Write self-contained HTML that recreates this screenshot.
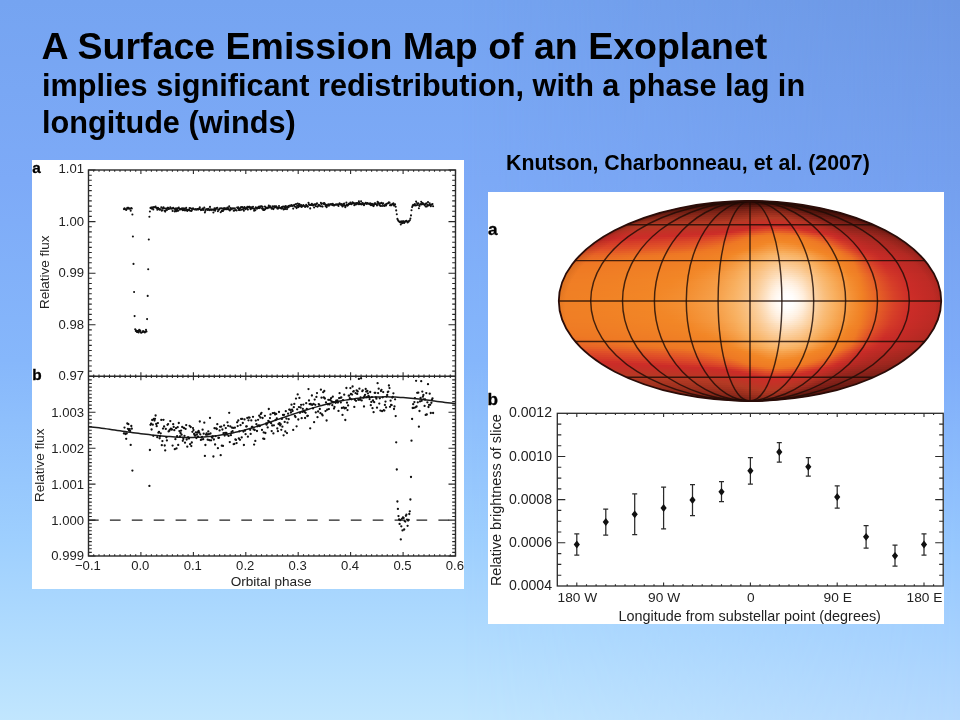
<!DOCTYPE html>
<html><head><meta charset="utf-8"><title>A Surface Emission Map of an Exoplanet</title>
<style>
html,body{margin:0;padding:0}
body{width:960px;height:720px;overflow:hidden;position:relative;font-family:"Liberation Sans",sans-serif;
background:linear-gradient(180deg,rgb(117,164,241) 0,rgb(125,170,247) 25%,rgb(134,183,251) 50%,rgb(158,207,254) 75%,rgb(177,220,254) 88.9%,rgb(193,230,254) 100%);}
.t{position:absolute;left:42px;white-space:nowrap;font-weight:bold;color:#000;line-height:1}
#t1{left:41.5px;top:27.6px;font-size:37.5px}
#t2{top:69.8px;font-size:30.67px}
#t3{top:106.5px;font-size:30.67px}
#t4{left:506px;top:152.7px;font-size:21.33px}
svg{position:absolute;left:0;top:0}
.p{position:absolute;background:#fff}
#bgr{position:absolute;left:0;top:0;width:960px;height:720px;background:linear-gradient(180deg,rgb(108,151,228) 0,rgb(116,159,238) 25%,rgb(126,172,249) 50%,rgb(149,198,254) 75%,rgb(166,209,254) 88.9%,rgb(181,217,254) 100%);-webkit-mask-image:linear-gradient(90deg,transparent 48%,#000 100%);mask-image:linear-gradient(90deg,transparent 48%,#000 100%)}
#map{position:absolute;left:0;top:0;width:960px;height:720px;clip-path:ellipse(191.2px 100px at 750px 301px)}
#map i{position:absolute;display:block;height:2px}
svg text{font-family:"Liberation Sans",sans-serif;fill:#222}
</style></head><body>
<div id="bgr"></div>
<div class="t" id="t1">A Surface Emission Map of an Exoplanet</div>
<div class="t" id="t2">implies significant redistribution, with a phase lag in</div>
<div class="t" id="t3">longitude (winds)</div>
<div class="t" id="t4">Knutson, Charbonneau, et al. (2007)</div>
<div class="p" style="left:32px;top:160px;width:432px;height:429px"></div>
<div class="p" style="left:488px;top:192px;width:456px;height:432px"></div>
<div id="map">

<i style="top:201px;left:712.0px;width:76.1px;background:linear-gradient(90deg,#300a06 0%,#300a06 4.2%,#300a06 8.3%,#300a06 12.5%,#300a06 16.7%,#300a06 20.8%,#300a06 25%,#300a06 29.2%,#300a06 33.3%,#310b06 37.5%,#310b06 41.7%,#310b06 43.1%,#310b06 44.4%,#310b06 45.8%,#320b06 47.2%,#320b06 48.6%,#320b06 50%,#320b06 51.4%,#320b06 52.8%,#330b06 54.2%,#330b06 55.6%,#330b06 56.9%,#330b06 58.3%,#330b06 59.7%,#330b06 61.1%,#330b06 62.5%,#330b06 63.9%,#320b06 65.3%,#320b06 66.7%,#320b06 68.1%,#310b06 69.4%,#310b06 70.8%,#300a06 72.2%,#300a05 73.6%,#2f0a05 75%,#2e0a05 76.4%,#2d0a05 79.2%,#2c0905 83.3%,#2c0905 87.5%,#2b0905 91.7%,#2b0905 95.8%,#2b0904 100%)"></i>
<i style="top:203px;left:696.5px;width:107.1px;background:linear-gradient(90deg,#3f0f09 0%,#3f0f09 4.2%,#3f0f09 8.3%,#3f0f09 12.5%,#400f09 16.7%,#400f09 20.8%,#400f09 25%,#400f09 29.2%,#410f09 33.3%,#421009 37.5%,#431009 41.7%,#431009 43.1%,#44100a 44.4%,#44100a 45.8%,#45110a 47.2%,#45110a 48.6%,#46110a 50%,#47110a 51.4%,#47110a 52.8%,#48110a 54.2%,#48120a 55.6%,#48120a 56.9%,#48120a 58.3%,#49120b 59.7%,#48120a 61.1%,#48120a 62.5%,#48120a 63.9%,#47110a 65.3%,#47110a 66.7%,#45110a 68.1%,#431009 69.4%,#421009 70.8%,#400f09 72.2%,#3f0f08 73.6%,#3d0f08 75%,#3b0e08 76.4%,#380d07 79.2%,#340c06 83.3%,#330c06 87.5%,#320b06 91.7%,#310b06 95.8%,#300b05 100%)"></i>
<i style="top:205px;left:684.8px;width:130.5px;background:linear-gradient(90deg,#4e130c 0%,#4e130c 4.2%,#4e130c 8.3%,#4f140c 12.5%,#4f140c 16.7%,#50140c 20.8%,#50140c 25%,#51140c 29.2%,#52150c 33.3%,#53150d 37.5%,#55160d 41.7%,#56160d 43.1%,#57160e 44.4%,#58160e 45.8%,#59170e 47.2%,#5a170e 48.6%,#5b180f 50%,#5c180f 51.4%,#5d180f 52.8%,#5e180f 54.2%,#5f190f 55.6%,#5f190f 56.9%,#5f1910 58.3%,#601910 59.7%,#5f190f 61.1%,#5f190f 62.5%,#5e190f 63.9%,#5d180f 65.3%,#5c180f 66.7%,#5a170e 68.1%,#57160e 69.4%,#54150d 70.8%,#51150c 72.2%,#4f140c 73.6%,#4c130b 75%,#49120a 76.4%,#431109 79.2%,#3c0f07 83.3%,#3a0e07 87.5%,#380d07 91.7%,#370d07 95.8%,#360d06 100%)"></i>
<i style="top:207px;left:675.1px;width:149.9px;background:linear-gradient(90deg,#5e180f 0%,#5e190f 4.2%,#5f190f 8.3%,#601910 12.5%,#601910 16.7%,#611910 20.8%,#621a10 25%,#631a10 29.2%,#641a11 33.3%,#661b11 37.5%,#681c12 41.7%,#6a1c12 43.1%,#6b1d12 44.4%,#6c1d12 45.8%,#6e1e13 47.2%,#701e13 48.6%,#711f14 50%,#721f14 51.4%,#741f14 52.8%,#752014 54.2%,#762015 55.6%,#772015 56.9%,#772015 58.3%,#782115 59.7%,#772015 61.1%,#762015 62.5%,#762015 63.9%,#742014 65.3%,#731f14 66.7%,#6f1e13 68.1%,#6c1d12 69.4%,#691c12 70.8%,#651b11 72.2%,#621910 73.6%,#5e180f 75%,#5a170e 76.4%,#53150d 79.2%,#46120a 83.3%,#411008 87.5%,#3f1008 91.7%,#3d0f08 95.8%,#3c0f07 100%)"></i>
<i style="top:209px;left:666.7px;width:166.7px;background:linear-gradient(90deg,#691c12 0%,#6a1c12 4.2%,#6a1c12 8.3%,#6b1d12 12.5%,#6c1d12 16.7%,#6d1d13 20.8%,#6e1e13 25%,#6f1e13 29.2%,#701e13 33.3%,#731f14 37.5%,#762015 41.7%,#772015 43.1%,#792115 44.4%,#7a2116 45.8%,#7c2216 47.2%,#7e2316 48.6%,#7f2317 50%,#802417 51.4%,#822417 52.8%,#832518 54.2%,#842518 55.6%,#842518 56.9%,#852618 58.3%,#852618 59.7%,#852618 61.1%,#842518 62.5%,#832518 63.9%,#822417 65.3%,#812417 66.7%,#7d2316 68.1%,#7a2116 69.4%,#772015 70.8%,#731f14 72.2%,#6f1d13 73.6%,#6b1c12 75%,#661b11 76.4%,#5d180f 79.2%,#4f140c 83.3%,#4a120a 87.5%,#461109 91.7%,#431109 95.8%,#401008 100%)"></i>
<i style="top:211px;left:659.2px;width:181.6px;background:linear-gradient(90deg,#742014 0%,#752014 4.2%,#762015 8.3%,#772015 12.5%,#782115 16.7%,#792115 20.8%,#7a2116 25%,#7b2216 29.2%,#7d2216 33.3%,#7f2317 37.5%,#812417 41.7%,#832518 43.1%,#842518 44.4%,#862618 45.8%,#872719 47.2%,#892719 48.6%,#8b281a 50%,#8c291a 51.4%,#8e291a 52.8%,#8f2a1a 54.2%,#902a1b 55.6%,#912b1b 56.9%,#912b1b 58.3%,#922b1b 59.7%,#912b1b 61.1%,#902a1b 62.5%,#902a1b 63.9%,#8e291a 65.3%,#8c291a 66.7%,#892719 68.1%,#862618 69.4%,#822418 70.8%,#7f2317 72.2%,#7b2116 73.6%,#772015 75%,#721e14 76.4%,#681b12 79.2%,#58160e 83.3%,#52140c 87.5%,#4d130b 91.7%,#4a120a 95.8%,#461109 100%)"></i>
<i style="top:213px;left:652.4px;width:195.1px;background:linear-gradient(90deg,#7f2317 0%,#7f2317 4.2%,#802417 8.3%,#812417 12.5%,#822417 16.7%,#832518 20.8%,#842518 25%,#852618 29.2%,#862618 33.3%,#892719 37.5%,#8c281a 41.7%,#8d291a 43.1%,#8f2a1a 44.4%,#902a1b 45.8%,#922b1b 47.2%,#942c1c 48.6%,#962d1c 50%,#982e1d 51.4%,#9a2e1d 52.8%,#9b2f1d 54.2%,#9d2f1e 55.6%,#9d301e 56.9%,#9e301e 58.3%,#9e301e 59.7%,#9e301e 61.1%,#9d2f1e 62.5%,#9c2f1e 63.9%,#9a2e1d 65.3%,#982e1d 66.7%,#952c1c 68.1%,#912a1b 69.4%,#8d281a 70.8%,#8a2619 72.2%,#862519 73.6%,#822318 75%,#7d2117 76.4%,#731e14 79.2%,#611810 83.3%,#5a170f 87.5%,#55150d 91.7%,#51140c 95.8%,#4c130b 100%)"></i>
<i style="top:215px;left:646.3px;width:207.5px;background:linear-gradient(90deg,#882719 0%,#882719 4.2%,#892719 8.3%,#8a2819 12.5%,#8b281a 16.7%,#8c291a 20.8%,#8d291a 25%,#8e2a1a 29.2%,#902a1b 33.3%,#932b1b 37.5%,#962d1c 41.7%,#982d1d 43.1%,#992e1d 44.4%,#9b2f1d 45.8%,#9e301e 47.2%,#a0311e 48.6%,#a2321f 50%,#a3321f 51.4%,#a43320 52.8%,#a63420 54.2%,#a73421 55.6%,#a83521 56.9%,#a93521 58.3%,#a93521 59.7%,#a83521 61.1%,#a83421 62.5%,#a73420 63.9%,#a53320 65.3%,#a3321f 66.7%,#a0301f 68.1%,#9c2e1e 69.4%,#982c1d 70.8%,#942a1c 72.2%,#90281b 73.6%,#8c261a 75%,#872419 76.4%,#7d2117 79.2%,#6a1b13 83.3%,#621911 87.5%,#5d170f 91.7%,#58160e 95.8%,#53150d 100%)"></i>
<i style="top:217px;left:640.6px;width:218.9px;background:linear-gradient(90deg,#912b1b 0%,#922b1b 4.2%,#922b1b 8.3%,#942c1c 12.5%,#952c1c 16.7%,#962d1c 20.8%,#972d1c 25%,#982e1d 29.2%,#9a2e1d 33.3%,#9d301e 37.5%,#a0311f 41.7%,#a2321f 43.1%,#a43320 44.4%,#a63320 45.8%,#a83421 47.2%,#aa3521 48.6%,#ac3622 50%,#ae3722 51.4%,#b03823 52.8%,#b13923 54.2%,#b33924 55.6%,#b33a24 56.9%,#b43a24 58.3%,#b43a24 59.7%,#b43a24 61.1%,#b33a24 62.5%,#b23923 63.9%,#b03823 65.3%,#ae3722 66.7%,#aa3521 68.1%,#a73320 69.4%,#a3301f 70.8%,#9f2e1e 72.2%,#9a2c1d 73.6%,#962a1d 75%,#91271b 76.4%,#862319 79.2%,#741d15 83.3%,#6b1b13 87.5%,#651911 91.7%,#5f1810 95.8%,#5a160e 100%)"></i>
<i style="top:219px;left:635.3px;width:229.4px;background:linear-gradient(90deg,#9a2e1d 0%,#9b2f1d 4.2%,#9c2f1e 8.3%,#9d301e 12.5%,#9e301e 16.7%,#9f311e 20.8%,#a1311f 25%,#a2321f 29.2%,#a3321f 33.3%,#a73420 37.5%,#aa3521 41.7%,#ac3622 43.1%,#ae3722 44.4%,#b03823 45.8%,#b23923 47.2%,#b43a24 48.6%,#b63924 50%,#b73824 51.4%,#b83825 52.8%,#b93725 54.2%,#bb3625 55.6%,#bb3625 56.9%,#bb3625 58.3%,#bc3525 59.7%,#bb3625 61.1%,#bb3625 62.5%,#ba3725 63.9%,#b93725 65.3%,#b73824 66.7%,#b43824 68.1%,#b13723 69.4%,#ad3422 70.8%,#a93221 72.2%,#a42f20 73.6%,#a02d1f 75%,#9a2a1e 76.4%,#8f261b 79.2%,#7d1f17 83.3%,#741d15 87.5%,#6d1b13 91.7%,#671a12 95.8%,#611810 100%)"></i>
<i style="top:221px;left:630.4px;width:239.3px;background:linear-gradient(90deg,#a3321f 0%,#a43320 4.2%,#a43320 8.3%,#a63320 12.5%,#a73420 16.7%,#a83521 20.8%,#a93521 25%,#ab3621 29.2%,#ac3622 33.3%,#b03823 37.5%,#b33a24 41.7%,#b53924 43.1%,#b63924 44.4%,#b83825 45.8%,#b93725 47.2%,#bb3625 48.6%,#bd3525 50%,#be3425 51.4%,#bf3426 52.8%,#c13326 54.2%,#c23226 55.6%,#c23226 56.9%,#c33226 58.3%,#c33126 59.7%,#c23226 61.1%,#c23226 62.5%,#c13226 63.9%,#c03326 65.3%,#be3425 66.7%,#bb3425 68.1%,#b83424 69.4%,#b53324 70.8%,#b23323 72.2%,#ae3222 73.6%,#aa3021 75%,#a42d20 76.4%,#98281d 79.2%,#842119 83.3%,#7c1f17 87.5%,#751d15 91.7%,#6e1c14 95.8%,#681a12 100%)"></i>
<i style="top:223px;left:625.7px;width:248.5px;background:linear-gradient(90deg,#ab3621 0%,#ac3622 4.2%,#ad3722 8.3%,#ae3722 12.5%,#af3823 16.7%,#b03823 20.8%,#b23923 25%,#b33a24 29.2%,#b53a24 33.3%,#b73824 37.5%,#ba3725 41.7%,#bb3625 43.1%,#bd3525 44.4%,#be3425 45.8%,#c03326 47.2%,#c23226 48.6%,#c33126 50%,#c43126 51.4%,#c53027 52.8%,#c63027 54.2%,#c72f27 55.6%,#c72f27 56.9%,#c82f27 58.3%,#c82e27 59.7%,#c82f27 61.1%,#c72f27 62.5%,#c72f27 63.9%,#c53027 65.3%,#c43126 66.7%,#c23126 68.1%,#c03126 69.4%,#bd3125 70.8%,#b93124 72.2%,#b63024 73.6%,#b23023 75%,#ad2f22 76.4%,#a12a1f 79.2%,#8c221a 83.3%,#822018 87.5%,#7c1f17 91.7%,#761d15 95.8%,#6f1c14 100%)"></i>
<i style="top:225px;left:621.4px;width:257.2px;background:linear-gradient(90deg,#b23923 0%,#b23924 4.2%,#b33a24 8.3%,#b43a24 12.5%,#b53924 16.7%,#b63924 20.8%,#b73824 25%,#b83825 29.2%,#b93725 33.3%,#bc3525 37.5%,#bf3426 41.7%,#c03326 43.1%,#c23226 44.4%,#c33126 45.8%,#c43126 47.2%,#c63027 48.6%,#c72f27 50%,#c82e27 51.4%,#c92e27 52.8%,#ca2d28 54.2%,#cb2c28 55.6%,#cc2c28 56.9%,#cc2d28 58.3%,#cd2e28 59.7%,#cc2c28 61.1%,#cc2c28 62.5%,#cb2d28 63.9%,#ca2d28 65.3%,#c82e27 66.7%,#c72f27 68.1%,#c42f26 69.4%,#c22f26 70.8%,#c02f25 72.2%,#bc2f25 73.6%,#b82f24 75%,#b32e23 76.4%,#a82c21 79.2%,#92241c 83.3%,#88221a 87.5%,#812018 91.7%,#7b1f17 95.8%,#741d15 100%)"></i>
<i style="top:227px;left:617.3px;width:265.4px;background:linear-gradient(90deg,#b73824 0%,#b73824 4.2%,#b83825 8.3%,#b93725 12.5%,#ba3725 16.7%,#bb3625 20.8%,#bc3625 25%,#bd3525 29.2%,#be3425 33.3%,#c13326 37.5%,#c33126 41.7%,#c43126 43.1%,#c63027 44.4%,#c72f27 45.8%,#c82e27 47.2%,#ca2d28 48.6%,#cb2c28 50%,#cd2d28 51.4%,#cf3128 52.8%,#d13528 54.2%,#d33928 55.6%,#d43b28 56.9%,#d53d28 58.3%,#d63e28 59.7%,#d53c28 61.1%,#d43a28 62.5%,#d33828 63.9%,#d03328 65.3%,#cd2e28 66.7%,#cb2d28 68.1%,#c92d27 69.4%,#c72e27 70.8%,#c42e26 72.2%,#c22e26 73.6%,#bf2e25 75%,#ba2e24 76.4%,#ae2c22 79.2%,#99251d 83.3%,#8e231b 87.5%,#872119 91.7%,#802018 95.8%,#7a1e16 100%)"></i>
<i style="top:229px;left:613.5px;width:273.1px;background:linear-gradient(90deg,#bb3625 0%,#bc3625 4.2%,#bc3525 8.3%,#bd3525 12.5%,#be3425 16.7%,#bf3426 20.8%,#c03326 25%,#c23226 29.2%,#c33226 33.3%,#c53027 37.5%,#c72f27 41.7%,#c82e27 43.1%,#c92e27 44.4%,#cb2d28 45.8%,#cc2d28 47.2%,#d03228 48.6%,#d33828 50%,#d53c28 51.4%,#d74128 52.8%,#da4528 54.2%,#dc4928 55.6%,#dd4b28 56.9%,#de4d28 58.3%,#df4e28 59.7%,#de4c28 61.1%,#dd4a28 62.5%,#db4728 63.9%,#d84228 65.3%,#d63d28 66.7%,#d23728 68.1%,#cf3128 69.4%,#cc2c28 70.8%,#c92d27 72.2%,#c62d27 73.6%,#c42d26 75%,#bf2d25 76.4%,#b52c23 79.2%,#9f261f 83.3%,#94241c 87.5%,#8c221a 91.7%,#852119 95.8%,#7e1f17 100%)"></i>
<i style="top:231px;left:609.8px;width:280.4px;background:linear-gradient(90deg,#c03326 0%,#c03326 4.2%,#c13326 8.3%,#c23226 12.5%,#c33226 16.7%,#c43126 20.8%,#c43126 25%,#c53027 29.2%,#c62f27 33.3%,#c92e27 37.5%,#cb2d28 41.7%,#cc2c28 43.1%,#cf3128 44.4%,#d23628 45.8%,#d53c28 47.2%,#d84228 48.6%,#dc4828 50%,#de4d28 51.4%,#e05128 52.8%,#e25627 54.2%,#e45b27 55.6%,#e55d27 56.9%,#e55f26 58.3%,#e66126 59.7%,#e55f27 61.1%,#e45c27 62.5%,#e35927 63.9%,#e15328 65.3%,#df4d28 66.7%,#db4728 68.1%,#d74028 69.4%,#d43a28 70.8%,#d03228 72.2%,#cc2c28 73.6%,#c92c27 75%,#c52d26 76.4%,#bc2c24 79.2%,#a52720 83.3%,#9a261e 87.5%,#92241c 91.7%,#8b221a 95.8%,#832119 100%)"></i>
<i style="top:233px;left:606.4px;width:287.3px;background:linear-gradient(90deg,#c43126 0%,#c43126 4.2%,#c53027 8.3%,#c63027 12.5%,#c72f27 16.7%,#c72f27 20.8%,#c82e27 25%,#c92e27 29.2%,#ca2d28 33.3%,#cd2e28 37.5%,#d23728 41.7%,#d53c28 43.1%,#d84128 44.4%,#db4628 45.8%,#de4c28 47.2%,#e15328 48.6%,#e45a27 50%,#e56026 51.4%,#e76526 52.8%,#e96a25 54.2%,#eb7025 55.6%,#ec7225 56.9%,#ed7424 58.3%,#ed7624 59.7%,#ec7324 61.1%,#eb7025 62.5%,#ea6e25 63.9%,#e86726 65.3%,#e66126 66.7%,#e35927 68.1%,#e05128 69.4%,#dd4a28 70.8%,#d84228 72.2%,#d43b28 73.6%,#d03328 75%,#cb2c28 76.4%,#c22c26 79.2%,#ac2821 83.3%,#a1271f 87.5%,#98251d 91.7%,#90231b 95.8%,#89221a 100%)"></i>
<i style="top:235px;left:603.1px;width:293.8px;background:linear-gradient(90deg,#c72f27 0%,#c82e27 4.2%,#c92e27 8.3%,#c92e27 12.5%,#ca2d28 16.7%,#cb2d28 20.8%,#cc2c28 25%,#ce3028 29.2%,#d03428 33.3%,#d53d28 37.5%,#da4628 41.7%,#dd4b28 43.1%,#e05128 44.4%,#e25727 45.8%,#e55e27 47.2%,#e86626 48.6%,#ea6d25 50%,#ec7325 51.4%,#ee7824 52.8%,#ee7a24 54.2%,#ef7b24 55.6%,#ef7c25 56.9%,#ef7c25 58.3%,#ef7d25 59.7%,#ef7c25 61.1%,#ef7b24 62.5%,#ef7b24 63.9%,#ee7924 65.3%,#ed7424 66.7%,#ea6c25 68.1%,#e76426 69.4%,#e45b27 70.8%,#e15228 72.2%,#dd4a28 73.6%,#d84228 75%,#d23728 76.4%,#c72c27 79.2%,#b32923 83.3%,#a72720 87.5%,#9e261e 91.7%,#96251d 95.8%,#8e231b 100%)"></i>
<i style="top:237px;left:600.0px;width:300.0px;background:linear-gradient(90deg,#ca2d28 0%,#cb2d28 4.2%,#cb2c28 8.3%,#cd2d28 12.5%,#ce3028 16.7%,#d03328 20.8%,#d23728 25%,#d43b28 29.2%,#d73f28 33.3%,#dc4828 37.5%,#e15228 41.7%,#e35827 43.1%,#e55e27 44.4%,#e76526 45.8%,#ea6c25 47.2%,#ed7424 48.6%,#ee7924 50%,#ef7b24 51.4%,#ef7c25 52.8%,#f07e25 54.2%,#f07f25 55.6%,#f08025 56.9%,#f08125 58.3%,#f18125 59.7%,#f08025 61.1%,#f08025 62.5%,#f07f25 63.9%,#ef7d25 65.3%,#ef7b24 66.7%,#ee7924 68.1%,#ec7225 69.4%,#e96925 70.8%,#e66026 72.2%,#e25727 73.6%,#df4e28 75%,#d84228 76.4%,#cc2c28 79.2%,#b92a24 83.3%,#ac2821 87.5%,#a3271f 91.7%,#9b261e 95.8%,#92241c 100%)"></i>
<i style="top:239px;left:597.0px;width:305.9px;background:linear-gradient(90deg,#cc2d28 0%,#ce2f28 4.2%,#cf3128 8.3%,#d13428 12.5%,#d23828 16.7%,#d43b28 20.8%,#d63e28 25%,#d84228 29.2%,#db4728 33.3%,#e05028 37.5%,#e45b27 41.7%,#e66226 43.1%,#e86826 44.4%,#eb6e25 45.8%,#ed7624 47.2%,#ee7a24 48.6%,#ef7c25 50%,#f07d25 51.4%,#f07f25 52.8%,#f08125 54.2%,#f18225 55.6%,#f18326 56.9%,#f18426 58.3%,#f28426 59.7%,#f18326 61.1%,#f18326 62.5%,#f18225 63.9%,#f08025 65.3%,#f07e25 66.7%,#ef7b24 68.1%,#ee7924 69.4%,#ec7324 70.8%,#e96a25 72.2%,#e66026 73.6%,#e25627 75%,#dd4a28 76.4%,#d03328 79.2%,#bc2a24 83.3%,#af2922 87.5%,#a62720 91.7%,#9e261e 95.8%,#95241c 100%)"></i>
<i style="top:241px;left:594.2px;width:311.5px;background:linear-gradient(90deg,#d03428 0%,#d23628 4.2%,#d33828 8.3%,#d53c28 12.5%,#d63f28 16.7%,#d84228 20.8%,#da4628 25%,#dd4a28 29.2%,#df4e28 33.3%,#e35927 37.5%,#e76426 41.7%,#e96b25 43.1%,#ec7225 44.4%,#ee7824 45.8%,#ef7a24 47.2%,#ef7c25 48.6%,#f07f25 50%,#f08025 51.4%,#f18225 52.8%,#f18426 54.2%,#f28526 55.6%,#f28626 56.9%,#f28828 58.3%,#f2892a 59.7%,#f28727 61.1%,#f28626 62.5%,#f28526 63.9%,#f18326 65.3%,#f08125 66.7%,#f07e25 68.1%,#ef7c25 69.4%,#ee7924 70.8%,#ec7324 72.2%,#e96925 73.6%,#e55f26 75%,#e15228 76.4%,#d43a28 79.2%,#bf2b25 83.3%,#b32923 87.5%,#a92821 91.7%,#a1271f 95.8%,#98251d 100%)"></i>
<i style="top:243px;left:591.6px;width:316.8px;background:linear-gradient(90deg,#d43a28 0%,#d53c28 4.2%,#d63f28 8.3%,#d84228 12.5%,#da4628 16.7%,#dc4928 20.8%,#de4c28 25%,#e05128 29.2%,#e25627 33.3%,#e66126 37.5%,#ea6d25 41.7%,#ec7424 43.1%,#ee7924 44.4%,#ef7a24 45.8%,#ef7d25 47.2%,#f07f25 48.6%,#f18125 50%,#f18326 51.4%,#f28426 52.8%,#f28727 54.2%,#f38b2d 55.6%,#f38d2f 56.9%,#f38e31 58.3%,#f39034 59.7%,#f38e31 61.1%,#f38b2e 62.5%,#f2892a 63.9%,#f28526 65.3%,#f18326 66.7%,#f08125 68.1%,#f07e25 69.4%,#ef7c25 70.8%,#ee7924 72.2%,#ec7225 73.6%,#e86826 75%,#e45a27 76.4%,#d84128 79.2%,#c22b26 83.3%,#b62923 87.5%,#ac2821 91.7%,#a3271f 95.8%,#9b261e 100%)"></i>
<i style="top:245px;left:589.1px;width:321.9px;background:linear-gradient(90deg,#d74028 0%,#d84228 4.2%,#da4528 8.3%,#dc4828 12.5%,#de4c28 16.7%,#e04f28 20.8%,#e15328 25%,#e35827 29.2%,#e55d27 33.3%,#e96926 37.5%,#ed7524 41.7%,#ee7924 43.1%,#ef7b24 44.4%,#ef7d25 45.8%,#f07f25 47.2%,#f18125 48.6%,#f18326 50%,#f28526 51.4%,#f28829 52.8%,#f38c2f 54.2%,#f49135 55.6%,#f49338 56.9%,#f4953a 58.3%,#f4963c 59.7%,#f49439 61.1%,#f49236 62.5%,#f38f33 63.9%,#f38a2c 65.3%,#f28626 66.7%,#f18326 68.1%,#f08025 69.4%,#f07e25 70.8%,#ef7b24 72.2%,#ee7824 73.6%,#eb6f25 75%,#e66226 76.4%,#db4728 79.2%,#c52b26 83.3%,#b92a24 87.5%,#af2822 91.7%,#a62720 95.8%,#9d261e 100%)"></i>
<i style="top:247px;left:586.7px;width:326.6px;background:linear-gradient(90deg,#da4628 0%,#dc4828 4.2%,#dd4b28 8.3%,#df4e28 12.5%,#e15228 16.7%,#e25627 20.8%,#e35a27 25%,#e55f26 29.2%,#e76426 33.3%,#eb7025 37.5%,#ee7924 41.7%,#ef7b24 43.1%,#ef7d25 44.4%,#f07f25 45.8%,#f18125 47.2%,#f18326 48.6%,#f28626 50%,#f2892b 51.4%,#f38e31 52.8%,#f49237 54.2%,#f4973d 55.6%,#f59940 56.9%,#f59b43 58.3%,#f59d45 59.7%,#f59a42 61.1%,#f5983f 62.5%,#f4953b 63.9%,#f39034 65.3%,#f38b2c 66.7%,#f28526 68.1%,#f18326 69.4%,#f08025 70.8%,#f07d25 72.2%,#ef7a24 73.6%,#ee7724 75%,#e96926 76.4%,#de4d28 79.2%,#c72b27 83.3%,#bb2a24 87.5%,#b12922 91.7%,#a82820 95.8%,#9f261f 100%)"></i>
<i style="top:249px;left:584.4px;width:331.2px;background:linear-gradient(90deg,#de4d28 0%,#df4f28 4.2%,#e15228 8.3%,#e25627 12.5%,#e35a27 16.7%,#e55e27 20.8%,#e66226 25%,#e86726 29.2%,#ea6d25 33.3%,#ee7824 37.5%,#ef7b24 41.7%,#f07d25 43.1%,#f07f25 44.4%,#f18125 45.8%,#f18326 47.2%,#f28626 48.6%,#f38b2e 50%,#f39034 51.4%,#f4953a 52.8%,#f59941 54.2%,#f59e47 55.6%,#f6a04a 56.9%,#f6a24d 58.3%,#f6a450 59.7%,#f6a24c 61.1%,#f69f49 62.5%,#f59c45 63.9%,#f4973d 65.3%,#f49135 66.7%,#f38b2c 68.1%,#f28526 69.4%,#f18326 70.8%,#f08025 72.2%,#ef7d25 73.6%,#ef7a24 75%,#ec7125 76.4%,#e25428 79.2%,#ca2c28 83.3%,#be2a25 87.5%,#b42923 91.7%,#ab2821 95.8%,#a2271f 100%)"></i>
<i style="top:251px;left:582.3px;width:335.5px;background:linear-gradient(90deg,#e25528 0%,#e35727 4.2%,#e45a27 8.3%,#e55e27 12.5%,#e66326 16.7%,#e86726 20.8%,#e96b25 25%,#eb7025 29.2%,#ed7624 33.3%,#ef7b24 37.5%,#f07e25 41.7%,#f08025 43.1%,#f18225 44.4%,#f18426 45.8%,#f28727 47.2%,#f38d2f 48.6%,#f49337 50%,#f4973e 51.4%,#f59c45 52.8%,#f6a14b 54.2%,#f7a652 55.6%,#f7a856 56.9%,#f7ab59 58.3%,#f8ad5b 59.7%,#f7aa58 61.1%,#f7a754 62.5%,#f6a450 63.9%,#f59e48 65.3%,#f59940 66.7%,#f49236 68.1%,#f38b2d 69.4%,#f28526 70.8%,#f18225 72.2%,#f07f25 73.6%,#ef7d25 75%,#ee7924 76.4%,#e55d27 79.2%,#ce2f28 83.3%,#c12b26 87.5%,#b82a24 91.7%,#ae2822 95.8%,#a52720 100%)"></i>
<i style="top:253px;left:580.2px;width:339.5px;background:linear-gradient(90deg,#e55d27 0%,#e66026 4.2%,#e76326 8.3%,#e86726 12.5%,#ea6b25 16.7%,#eb7025 20.8%,#ed7424 25%,#ee7824 29.2%,#ef7a24 33.3%,#f07d25 37.5%,#f08125 41.7%,#f18326 43.1%,#f28526 44.4%,#f28828 45.8%,#f38e30 47.2%,#f49439 48.6%,#f59a41 50%,#f69f48 51.4%,#f6a44f 52.8%,#f7a956 54.2%,#f8ae5e 55.6%,#f8b161 56.9%,#f8b265 58.3%,#f8b468 59.7%,#f8b264 61.1%,#f8b060 62.5%,#f7ac5b 63.9%,#f7a653 65.3%,#f6a04a 66.7%,#f59940 68.1%,#f49237 69.4%,#f38b2d 70.8%,#f28526 72.2%,#f18225 73.6%,#f07f25 75%,#ef7b24 76.4%,#e86626 79.2%,#d13528 83.3%,#c42b26 87.5%,#bb2a24 91.7%,#b22922 95.8%,#a82820 100%)"></i>
<i style="top:255px;left:578.3px;width:343.4px;background:linear-gradient(90deg,#e76426 0%,#e86726 4.2%,#e96925 8.3%,#ea6e25 12.5%,#ec7225 16.7%,#ed7624 20.8%,#ee7924 25%,#ef7a24 29.2%,#ef7c25 33.3%,#f07f25 37.5%,#f18326 41.7%,#f28526 43.1%,#f28828 44.4%,#f38d2f 45.8%,#f49338 47.2%,#f59940 48.6%,#f69f49 50%,#f6a450 51.4%,#f7aa57 52.8%,#f8af5f 54.2%,#f8b467 55.6%,#f9b66b 56.9%,#f9b86f 58.3%,#f9b972 59.7%,#f9b76e 61.1%,#f8b569 62.5%,#f8b264 63.9%,#f7ac5b 65.3%,#f7a652 66.7%,#f69f48 68.1%,#f4973e 69.4%,#f49135 70.8%,#f2892a 72.2%,#f18426 73.6%,#f18125 75%,#ef7d25 76.4%,#ea6c25 79.2%,#d43a28 83.3%,#c62b27 87.5%,#bd2a25 91.7%,#b42923 95.8%,#aa2821 100%)"></i>
<i style="top:257px;left:576.5px;width:347.0px;background:linear-gradient(90deg,#e86826 0%,#e96b25 4.2%,#eb6e25 8.3%,#ec7225 12.5%,#ee7724 16.7%,#ee7924 20.8%,#ef7a24 25%,#ef7c25 29.2%,#ef7d25 33.3%,#f08125 37.5%,#f18426 41.7%,#f28626 43.1%,#f38b2d 44.4%,#f39034 45.8%,#f4963d 47.2%,#f59d46 48.6%,#f6a34f 50%,#f7a956 51.4%,#f8ae5d 52.8%,#f8b366 54.2%,#f9b76e 55.6%,#f9b973 56.9%,#f9bb77 58.3%,#f9bd7a 59.7%,#f9bb76 61.1%,#f9b971 62.5%,#f9b66c 63.9%,#f8b162 65.3%,#f7aa58 66.7%,#f6a34e 68.1%,#f59b43 69.4%,#f4943a 70.8%,#f38d2f 72.2%,#f28626 73.6%,#f18326 75%,#f07e25 76.4%,#ec7125 79.2%,#d63e28 83.3%,#c82c27 87.5%,#bf2b25 91.7%,#b62923 95.8%,#ac2821 100%)"></i>
<i style="top:259px;left:574.8px;width:350.5px;background:linear-gradient(90deg,#ea6d25 0%,#eb7025 4.2%,#ec7325 8.3%,#ee7724 12.5%,#ee7924 16.7%,#ef7a24 20.8%,#ef7b24 25%,#ef7d25 29.2%,#f07e25 33.3%,#f18225 37.5%,#f28526 41.7%,#f38a2b 43.1%,#f38f32 44.4%,#f49439 45.8%,#f59a42 47.2%,#f6a14b 48.6%,#f7a754 50%,#f8ad5b 51.4%,#f8b264 52.8%,#f9b66d 54.2%,#f9bb76 55.6%,#f9bd7b 56.9%,#fac07f 58.3%,#fac183 59.7%,#fabf7e 61.1%,#f9bd79 62.5%,#f9ba73 63.9%,#f8b468 65.3%,#f8af5e 66.7%,#f7a753 68.1%,#f69f49 69.4%,#f5983f 70.8%,#f39034 72.2%,#f2892a 73.6%,#f18426 75%,#f08025 76.4%,#ed7624 79.2%,#d84228 83.3%,#c92c27 87.5%,#c02b25 91.7%,#b72a23 95.8%,#ad2821 100%)"></i>
<i style="top:261px;left:573.1px;width:353.7px;background:linear-gradient(90deg,#eb7125 0%,#ed7424 4.2%,#ee7724 8.3%,#ee7924 12.5%,#ef7a24 16.7%,#ef7b24 20.8%,#ef7c25 25%,#f07e25 29.2%,#f08025 33.3%,#f18326 37.5%,#f28828 41.7%,#f38d2f 43.1%,#f49236 44.4%,#f4973d 45.8%,#f59d46 47.2%,#f6a44f 48.6%,#f7ab59 50%,#f8b061 51.4%,#f8b56a 52.8%,#f9ba73 54.2%,#f9be7d 55.6%,#fac183 56.9%,#fac487 58.3%,#fac58b 59.7%,#fac386 61.1%,#fac081 62.5%,#f9bd7a 63.9%,#f9b76f 65.3%,#f8b264 66.7%,#f7aa58 68.1%,#f6a34e 69.4%,#f59b43 70.8%,#f49338 72.2%,#f38c2e 73.6%,#f28526 75%,#f18125 76.4%,#ee7824 79.2%,#da4528 83.3%,#cb2c28 87.5%,#c12b26 91.7%,#b92a24 95.8%,#af2922 100%)"></i>
<i style="top:263px;left:571.6px;width:356.8px;background:linear-gradient(90deg,#ed7424 0%,#ee7724 4.2%,#ee7924 8.3%,#ef7a24 12.5%,#ef7b24 16.7%,#ef7c25 20.8%,#f07d25 25%,#f07f25 29.2%,#f08125 33.3%,#f18426 37.5%,#f38a2c 41.7%,#f38f33 43.1%,#f4953a 44.4%,#f59a41 45.8%,#f6a04a 47.2%,#f7a754 48.6%,#f8ae5d 50%,#f8b366 51.4%,#f9b86f 52.8%,#f9bd79 54.2%,#fac284 55.6%,#fac58a 56.9%,#fac88f 58.3%,#fbc993 59.7%,#fac78e 61.1%,#fac488 62.5%,#fac081 63.9%,#f9ba75 65.3%,#f8b569 66.7%,#f8ae5d 68.1%,#f7a652 69.4%,#f59e47 70.8%,#f4963c 72.2%,#f38e31 73.6%,#f28727 75%,#f18225 76.4%,#ee7924 79.2%,#db4828 83.3%,#cc2c28 87.5%,#c22b26 91.7%,#ba2a24 95.8%,#b02922 100%)"></i>
<i style="top:265px;left:570.2px;width:359.6px;background:linear-gradient(90deg,#ee7824 0%,#ee7924 4.2%,#ee7a24 8.3%,#ef7b24 12.5%,#ef7c25 16.7%,#ef7d25 20.8%,#f07e25 25%,#f08025 29.2%,#f18225 33.3%,#f28526 37.5%,#f38d30 41.7%,#f49237 43.1%,#f4973e 44.4%,#f59d45 45.8%,#f6a34e 47.2%,#f7aa58 48.6%,#f8b162 50%,#f9b56b 51.4%,#f9ba75 52.8%,#fac07f 54.2%,#fac58b 55.6%,#fac992 56.9%,#fbcc97 58.3%,#fbce9b 59.7%,#fbcb96 61.1%,#fac890 62.5%,#fac488 63.9%,#f9be7b 65.3%,#f9b76f 66.7%,#f8b162 68.1%,#f7a956 69.4%,#f6a14b 70.8%,#f59940 72.2%,#f49135 73.6%,#f2892a 75%,#f18326 76.4%,#ef7a24 79.2%,#dd4a28 83.3%,#cd2f28 87.5%,#c42b26 91.7%,#bb2a24 95.8%,#b12922 100%)"></i>
<i style="top:267px;left:568.9px;width:362.3px;background:linear-gradient(90deg,#ee7924 0%,#ee7a24 4.2%,#ef7a24 8.3%,#ef7c25 12.5%,#ef7d25 16.7%,#f07e25 20.8%,#f07f25 25%,#f18125 29.2%,#f18326 33.3%,#f28727 37.5%,#f39033 41.7%,#f4953a 43.1%,#f59a42 44.4%,#f69f49 45.8%,#f7a652 47.2%,#f8ad5c 48.6%,#f8b366 50%,#f9b870 51.4%,#f9bd7a 52.8%,#fac386 54.2%,#fac992 55.6%,#fbcd9a 56.9%,#fbd0a0 58.3%,#fbd2a4 59.7%,#fbd09f 61.1%,#fbcc98 62.5%,#fac88f 63.9%,#fac182 65.3%,#f9ba75 66.7%,#f8b367 68.1%,#f7ac5a 69.4%,#f6a44f 70.8%,#f59c44 72.2%,#f49439 73.6%,#f38c2e 75%,#f18426 76.4%,#ef7b24 79.2%,#de4d28 83.3%,#cf3128 87.5%,#c52b26 91.7%,#bc2a25 95.8%,#b22922 100%)"></i>
<i style="top:269px;left:567.6px;width:364.8px;background:linear-gradient(90deg,#ef7a24 0%,#ef7b24 4.2%,#ef7b24 8.3%,#ef7d25 12.5%,#f07e25 16.7%,#f07f25 20.8%,#f08025 25%,#f18225 29.2%,#f18426 33.3%,#f2892b 37.5%,#f49237 41.7%,#f4973e 43.1%,#f59d45 44.4%,#f6a24d 45.8%,#f7a956 47.2%,#f8b060 48.6%,#f9b66b 50%,#f9bb75 51.4%,#fac080 52.8%,#fac68c 54.2%,#fbcd9a 55.6%,#fbd1a2 56.9%,#fcd5a9 58.3%,#fcd7ad 59.7%,#fcd4a8 61.1%,#fbd0a0 62.5%,#fbcb97 63.9%,#fac488 65.3%,#f9bd7a 66.7%,#f9b66c 68.1%,#f8af5f 69.4%,#f7a753 70.8%,#f59e48 72.2%,#f4963c 73.6%,#f38e31 75%,#f28526 76.4%,#ef7c25 79.2%,#e05028 83.3%,#d03428 87.5%,#c62b27 91.7%,#bd2a25 95.8%,#b42923 100%)"></i>
<i style="top:271px;left:566.4px;width:367.1px;background:linear-gradient(90deg,#ef7b24 0%,#ef7b24 4.2%,#ef7c25 8.3%,#f07d25 12.5%,#f07f25 16.7%,#f08025 20.8%,#f18125 25%,#f18326 29.2%,#f28526 33.3%,#f38b2d 37.5%,#f4943a 41.7%,#f59a41 43.1%,#f69f49 44.4%,#f6a450 45.8%,#f7ab5a 47.2%,#f8b264 48.6%,#f9b86f 50%,#f9bd7a 51.4%,#fac385 52.8%,#fbc993 54.2%,#fbd0a1 55.6%,#fcd5aa 56.9%,#fcd9b2 58.3%,#fcdbb6 59.7%,#fcd8b1 61.1%,#fcd4a8 62.5%,#fbcf9e 63.9%,#fac78e 65.3%,#fac080 66.7%,#f9b870 68.1%,#f8b163 69.4%,#f7a957 70.8%,#f6a14b 72.2%,#f59940 73.6%,#f39034 75%,#f28626 76.4%,#ef7d25 79.2%,#e15228 83.3%,#d13628 87.5%,#c72b27 91.7%,#be2a25 95.8%,#b52923 100%)"></i>
<i style="top:273px;left:565.4px;width:369.2px;background:linear-gradient(90deg,#ef7b24 0%,#ef7c25 4.2%,#ef7d25 8.3%,#f07e25 12.5%,#f07f25 16.7%,#f08125 20.8%,#f18225 25%,#f18426 29.2%,#f28526 33.3%,#f38d30 37.5%,#f4963c 41.7%,#f59b44 43.1%,#f6a14b 44.4%,#f7a653 45.8%,#f8ad5c 47.2%,#f8b367 48.6%,#f9b973 50%,#f9bf7d 51.4%,#fac58a 52.8%,#fbcc98 54.2%,#fcd4a7 55.6%,#fcd9b2 56.9%,#fdddba 58.3%,#fddfbf 59.7%,#fddcb9 61.1%,#fcd8b0 62.5%,#fbd2a4 63.9%,#fbca94 65.3%,#fac284 66.7%,#f9ba74 68.1%,#f8b366 69.4%,#f7ab5a 70.8%,#f6a34e 72.2%,#f59a42 73.6%,#f49237 75%,#f28728 76.4%,#f07e25 79.2%,#e25428 83.3%,#d23728 87.5%,#c82c27 91.7%,#bf2b25 95.8%,#b62923 100%)"></i>
<i style="top:275px;left:564.4px;width:371.2px;background:linear-gradient(90deg,#ef7c25 0%,#ef7d25 4.2%,#f07d25 8.3%,#f07f25 12.5%,#f08025 16.7%,#f18125 20.8%,#f18326 25%,#f18426 29.2%,#f28626 33.3%,#f38f32 37.5%,#f5983f 41.7%,#f59d46 43.1%,#f6a34e 44.4%,#f7a855 45.8%,#f8af5f 47.2%,#f8b56a 48.6%,#f9bb76 50%,#fac181 51.4%,#fac78f 52.8%,#fbcf9e 54.2%,#fcd7ae 55.6%,#fdddb9 56.9%,#fde1c2 58.3%,#fde4c7 59.7%,#fde1c1 61.1%,#fcdcb7 62.5%,#fcd6ab 63.9%,#fbcd99 65.3%,#fac489 66.7%,#f9bc78 68.1%,#f8b569 69.4%,#f8ad5c 70.8%,#f6a550 72.2%,#f59c45 73.6%,#f49439 75%,#f2892a 76.4%,#f07e25 79.2%,#e25627 83.3%,#d33928 87.5%,#c82c27 91.7%,#c02b25 95.8%,#b62a23 100%)"></i>
<i style="top:277px;left:563.5px;width:373.0px;background:linear-gradient(90deg,#ef7c25 0%,#ef7d25 4.2%,#f07e25 8.3%,#f07f25 12.5%,#f08125 16.7%,#f18225 20.8%,#f18326 25%,#f28526 29.2%,#f28728 33.3%,#f39034 37.5%,#f59a41 41.7%,#f69f49 43.1%,#f6a450 44.4%,#f7aa58 45.8%,#f8b162 47.2%,#f9b76d 48.6%,#f9bd7a 50%,#fac385 51.4%,#fbca93 52.8%,#fbd2a4 54.2%,#fcdab5 55.6%,#fde1c1 56.9%,#fee6cb 58.3%,#fee8d0 59.7%,#fee5ca 61.1%,#fde0bf 62.5%,#fcd9b2 63.9%,#fbd09f 65.3%,#fac78d 66.7%,#f9be7c 68.1%,#f9b66d 69.4%,#f8af5f 70.8%,#f7a653 72.2%,#f59e47 73.6%,#f4963c 75%,#f38b2c 76.4%,#f07f25 79.2%,#e35827 83.3%,#d43b28 87.5%,#c92c27 91.7%,#c02b25 95.8%,#b72a23 100%)"></i>
<i style="top:279px;left:562.7px;width:374.7px;background:linear-gradient(90deg,#ef7d25 0%,#f07e25 4.2%,#f07f25 8.3%,#f08025 12.5%,#f18125 16.7%,#f18326 20.8%,#f18426 25%,#f28626 29.2%,#f2892a 33.3%,#f49237 37.5%,#f59b43 41.7%,#f6a14b 43.1%,#f7a653 44.4%,#f7ac5a 45.8%,#f8b265 47.2%,#f9b870 48.6%,#f9be7d 50%,#fac589 51.4%,#fbcc98 52.8%,#fcd5aa 54.2%,#fddebc 55.6%,#fee5c9 56.9%,#feead4 58.3%,#ffedda 59.7%,#fee9d3 61.1%,#fde4c7 62.5%,#fdddb9 63.9%,#fbd3a5 65.3%,#fbc992 66.7%,#fac080 68.1%,#f9b870 69.4%,#f8b162 70.8%,#f7a855 72.2%,#f6a049 73.6%,#f4973e 75%,#f38c2f 76.4%,#f08025 79.2%,#e45a27 83.3%,#d53c28 87.5%,#ca2c28 91.7%,#c12b26 95.8%,#b82a24 100%)"></i>
<i style="top:281px;left:561.9px;width:376.2px;background:linear-gradient(90deg,#f07d25 0%,#f07e25 4.2%,#f07f25 8.3%,#f08025 12.5%,#f18225 16.7%,#f18326 20.8%,#f28426 25%,#f28626 29.2%,#f38a2c 33.3%,#f49338 37.5%,#f59d45 41.7%,#f6a24d 43.1%,#f7a854 44.4%,#f8ad5c 45.8%,#f8b367 47.2%,#f9b972 48.6%,#fac080 50%,#fac68d 51.4%,#fbce9c 52.8%,#fcd7af 54.2%,#fde1c2 55.6%,#fee8d1 56.9%,#ffeedc 58.3%,#fff1e1 59.7%,#ffeddb 61.1%,#fee7cf 62.5%,#fde0bf 63.9%,#fcd5aa 65.3%,#fbcb96 66.7%,#fac283 68.1%,#f9b973 69.4%,#f8b264 70.8%,#f7aa57 72.2%,#f6a14b 73.6%,#f59940 75%,#f38e30 76.4%,#f08025 79.2%,#e45c27 83.3%,#d63d28 87.5%,#ca2c28 91.7%,#c22b26 95.8%,#b92a24 100%)"></i>
<i style="top:283px;left:561.3px;width:377.5px;background:linear-gradient(90deg,#f07e25 0%,#f07f25 4.2%,#f07f25 8.3%,#f08125 12.5%,#f18225 16.7%,#f18326 20.8%,#f28526 25%,#f28727 29.2%,#f38b2d 33.3%,#f49439 37.5%,#f59d46 41.7%,#f6a34e 43.1%,#f7a855 44.4%,#f8ae5d 45.8%,#f8b468 47.2%,#f9ba74 48.6%,#fac181 50%,#fac78f 51.4%,#fbd09f 52.8%,#fcd9b3 54.2%,#fde4c7 55.6%,#feebd7 56.9%,#fff1e2 58.3%,#fff3e7 59.7%,#fff1e1 61.1%,#feead5 62.5%,#fde2c4 63.9%,#fcd7ae 65.3%,#fbcd99 66.7%,#fac385 68.1%,#f9ba74 69.4%,#f8b366 70.8%,#f7ab58 72.2%,#f6a24c 73.6%,#f59941 75%,#f38e31 76.4%,#f08025 79.2%,#e45d27 83.3%,#d63e28 87.5%,#cb2c28 91.7%,#c22b26 95.8%,#b92a24 100%)"></i>
<i style="top:285px;left:560.7px;width:378.6px;background:linear-gradient(90deg,#f07e25 0%,#f07f25 4.2%,#f08025 8.3%,#f18125 12.5%,#f18225 16.7%,#f18426 20.8%,#f28526 25%,#f28728 29.2%,#f38b2d 33.3%,#f4953a 37.5%,#f59e47 41.7%,#f6a44f 43.1%,#f7a956 44.4%,#f8af5e 45.8%,#f8b569 47.2%,#f9bb75 48.6%,#fac283 50%,#fac991 51.4%,#fbd1a2 52.8%,#fcdbb7 54.2%,#fee6cc 55.6%,#ffeedd 56.9%,#fff4e7 58.3%,#fff6ec 59.7%,#fff3e7 61.1%,#ffeddb 62.5%,#fee5c9 63.9%,#fcd9b2 65.3%,#fbce9c 66.7%,#fac488 68.1%,#f9bb76 69.4%,#f8b467 70.8%,#f7ab5a 72.2%,#f6a24d 73.6%,#f59a42 75%,#f38f32 76.4%,#f08125 79.2%,#e55e27 83.3%,#d63f28 87.5%,#cb2c28 91.7%,#c22b26 95.8%,#b92a24 100%)"></i>
<i style="top:287px;left:560.2px;width:379.6px;background:linear-gradient(90deg,#f07e25 0%,#f07f25 4.2%,#f08025 8.3%,#f18125 12.5%,#f18326 16.7%,#f18426 20.8%,#f28526 25%,#f28829 29.2%,#f38c2e 33.3%,#f4953b 37.5%,#f69f48 41.7%,#f6a450 43.1%,#f7aa58 44.4%,#f8b060 45.8%,#f9b56b 47.2%,#f9bb77 48.6%,#fac285 50%,#fbca93 51.4%,#fbd3a5 52.8%,#fdddba 54.2%,#fee9d1 55.6%,#fff1e2 56.9%,#fff6ec 58.3%,#fff8f1 59.7%,#fff6eb 61.1%,#fff0e1 62.5%,#fee7ce 63.9%,#fcdbb6 65.3%,#fbd09f 66.7%,#fac58a 68.1%,#f9bc78 69.4%,#f8b469 70.8%,#f7ac5b 72.2%,#f6a34e 73.6%,#f59b43 75%,#f39033 76.4%,#f18125 79.2%,#e55e27 83.3%,#d74028 87.5%,#cb2c28 91.7%,#c32b26 95.8%,#ba2a24 100%)"></i>
<i style="top:289px;left:559.8px;width:380.5px;background:linear-gradient(90deg,#f07e25 0%,#f07f25 4.2%,#f08025 8.3%,#f18125 12.5%,#f18326 16.7%,#f18426 20.8%,#f28526 25%,#f2892a 29.2%,#f38d2f 33.3%,#f4963c 37.5%,#f69f49 41.7%,#f6a551 43.1%,#f7ab59 44.4%,#f8b061 45.8%,#f9b66c 47.2%,#f9bc78 48.6%,#fac387 50%,#fbcb95 51.4%,#fcd4a8 52.8%,#fddfbe 54.2%,#feebd6 55.6%,#fff3e6 56.9%,#fff8f1 58.3%,#fffbf6 59.7%,#fff8f0 61.1%,#fff2e5 62.5%,#fee9d3 63.9%,#fdddb9 65.3%,#fbd1a2 66.7%,#fac68c 68.1%,#f9bd79 69.4%,#f8b56a 70.8%,#f8ad5c 72.2%,#f6a44f 73.6%,#f59b44 75%,#f39034 76.4%,#f18125 79.2%,#e55f26 83.3%,#d74028 87.5%,#cc2c28 91.7%,#c32b26 95.8%,#ba2a24 100%)"></i>
<i style="top:291px;left:559.4px;width:381.2px;background:linear-gradient(90deg,#f07f25 0%,#f08025 4.2%,#f08025 8.3%,#f18225 12.5%,#f18326 16.7%,#f28426 20.8%,#f28626 25%,#f2892b 29.2%,#f38d30 33.3%,#f4973d 37.5%,#f6a04a 41.7%,#f7a652 43.1%,#f7ab5a 44.4%,#f8b162 45.8%,#f9b76d 47.2%,#f9bd7a 48.6%,#fac488 50%,#fbcc97 51.4%,#fcd5ab 52.8%,#fde1c1 54.2%,#ffedda 55.6%,#fff5ea 56.9%,#fffaf5 58.3%,#fffdfa 59.7%,#fffaf4 61.1%,#fff4e8 62.5%,#feebd7 63.9%,#fddebd 65.3%,#fbd2a5 66.7%,#fac78e 68.1%,#f9bd7b 69.4%,#f9b66b 70.8%,#f8ae5d 72.2%,#f6a551 73.6%,#f59c45 75%,#f49135 76.4%,#f18125 79.2%,#e66026 83.3%,#d84128 87.5%,#cc2c28 91.7%,#c32b26 95.8%,#ba2a24 100%)"></i>
<i style="top:293px;left:559.1px;width:381.7px;background:linear-gradient(90deg,#f07f25 0%,#f08025 4.2%,#f08125 8.3%,#f18225 12.5%,#f18326 16.7%,#f28526 20.8%,#f28626 25%,#f38a2b 29.2%,#f38e31 33.3%,#f4973e 37.5%,#f6a14b 41.7%,#f7a653 43.1%,#f7ac5b 44.4%,#f8b163 45.8%,#f9b76e 47.2%,#f9bd7b 48.6%,#fac58a 50%,#fbcd99 51.4%,#fcd7ad 52.8%,#fde2c4 54.2%,#ffefdd 55.6%,#fff6ed 56.9%,#fffcf8 58.3%,#fffefe 59.7%,#fffbf8 61.1%,#fff6eb 62.5%,#ffedda 63.9%,#fde0c0 65.3%,#fcd3a7 66.7%,#fac890 68.1%,#f9be7c 69.4%,#f9b66d 70.8%,#f8af5e 72.2%,#f7a652 73.6%,#f59d46 75%,#f49236 76.4%,#f18225 79.2%,#e66126 83.3%,#d84228 87.5%,#cc2d28 91.7%,#c32b26 95.8%,#bb2a24 100%)"></i>
<i style="top:295px;left:559.0px;width:382.1px;background:linear-gradient(90deg,#f07f25 0%,#f08025 4.2%,#f18125 8.3%,#f18225 12.5%,#f18426 16.7%,#f28526 20.8%,#f28627 25%,#f38b2c 29.2%,#f38f32 33.3%,#f5983f 37.5%,#f6a24c 41.7%,#f7a754 43.1%,#f8ad5c 44.4%,#f8b264 45.8%,#f9b86f 47.2%,#f9be7c 48.6%,#fac68b 50%,#fbce9b 51.4%,#fcd8af 52.8%,#fde3c7 54.2%,#fff0e0 55.6%,#fff8f0 56.9%,#fffdfb 58.3%,#ffffff 59.7%,#fffdfb 61.1%,#fff7ee 62.5%,#ffefde 63.9%,#fde1c2 65.3%,#fcd5a9 66.7%,#fac991 68.1%,#f9bf7e 69.4%,#f9b76e 70.8%,#f8af5f 72.2%,#f7a653 73.6%,#f59e47 75%,#f49237 76.4%,#f18225 79.2%,#e66226 83.3%,#d84228 87.5%,#cd2d28 91.7%,#c42b26 95.8%,#bb2a24 100%)"></i>
<i style="top:297px;left:558.8px;width:382.3px;background:linear-gradient(90deg,#f07f25 0%,#f08025 4.2%,#f18125 8.3%,#f18326 12.5%,#f18426 16.7%,#f28526 20.8%,#f28728 25%,#f38b2d 29.2%,#f38f33 33.3%,#f59940 37.5%,#f6a24d 41.7%,#f7a855 43.1%,#f8ae5d 44.4%,#f8b365 45.8%,#f9b871 47.2%,#f9bf7d 48.6%,#fac68d 50%,#fbce9d 51.4%,#fcd8b1 52.8%,#fee4c9 54.2%,#fff1e2 55.6%,#fff9f2 56.9%,#fffefe 58.3%,#ffffff 59.7%,#fffefd 61.1%,#fff8f0 62.5%,#fff0e0 63.9%,#fde2c4 65.3%,#fcd5ab 66.7%,#fbc993 68.1%,#fac07f 69.4%,#f9b86f 70.8%,#f8b060 72.2%,#f7a754 73.6%,#f59e48 75%,#f49338 76.4%,#f18225 79.2%,#e76326 83.3%,#d94328 87.5%,#cd2e28 91.7%,#c42b26 95.8%,#bb2a24 100%)"></i>
<i style="top:299px;left:558.8px;width:382.4px;background:linear-gradient(90deg,#f08025 0%,#f08125 4.2%,#f18125 8.3%,#f18326 12.5%,#f18426 16.7%,#f28526 20.8%,#f28828 25%,#f38c2e 29.2%,#f39034 33.3%,#f59a41 37.5%,#f6a34e 41.7%,#f7a956 43.1%,#f8ae5e 44.4%,#f8b366 45.8%,#f9b972 47.2%,#fabf7f 48.6%,#fac78e 50%,#fbcf9e 51.4%,#fcd9b2 52.8%,#fee5cb 54.2%,#fff2e4 55.6%,#fff9f3 56.9%,#ffffff 58.3%,#ffffff 59.7%,#ffffff 61.1%,#fff9f2 62.5%,#fff1e1 63.9%,#fde3c6 65.3%,#fcd6ac 66.7%,#fbca94 68.1%,#fac081 69.4%,#f9b870 70.8%,#f8b161 72.2%,#f7a855 73.6%,#f69f49 75%,#f49439 76.4%,#f18225 79.2%,#e76426 83.3%,#d94428 87.5%,#cd2f28 91.7%,#c42b26 95.8%,#bb2a24 100%)"></i>
<i style="top:301px;left:558.8px;width:382.4px;background:linear-gradient(90deg,#f08025 0%,#f08125 4.2%,#f18125 8.3%,#f18326 12.5%,#f18426 16.7%,#f28526 20.8%,#f28828 25%,#f38c2e 29.2%,#f39034 33.3%,#f59a41 37.5%,#f6a34e 41.7%,#f7a956 43.1%,#f8ae5e 44.4%,#f8b366 45.8%,#f9b972 47.2%,#fabf7f 48.6%,#fac78e 50%,#fbcf9e 51.4%,#fcd9b2 52.8%,#fee5cb 54.2%,#fff2e4 55.6%,#fff9f3 56.9%,#ffffff 58.3%,#ffffff 59.7%,#ffffff 61.1%,#fff9f2 62.5%,#fff1e1 63.9%,#fde3c6 65.3%,#fcd6ac 66.7%,#fbca94 68.1%,#fac081 69.4%,#f9b870 70.8%,#f8b161 72.2%,#f7a855 73.6%,#f69f49 75%,#f49439 76.4%,#f18225 79.2%,#e76426 83.3%,#d94428 87.5%,#cd2f28 91.7%,#c42b26 95.8%,#bb2a24 100%)"></i>
<i style="top:303px;left:558.8px;width:382.3px;background:linear-gradient(90deg,#f07f25 0%,#f08025 4.2%,#f18125 8.3%,#f18326 12.5%,#f18426 16.7%,#f28526 20.8%,#f28728 25%,#f38b2d 29.2%,#f38f33 33.3%,#f59940 37.5%,#f6a24d 41.7%,#f7a855 43.1%,#f8ae5d 44.4%,#f8b365 45.8%,#f9b871 47.2%,#f9bf7d 48.6%,#fac68d 50%,#fbce9d 51.4%,#fcd8b1 52.8%,#fee4c9 54.2%,#fff1e2 55.6%,#fff9f2 56.9%,#fffefe 58.3%,#ffffff 59.7%,#fffefd 61.1%,#fff8f0 62.5%,#fff0e0 63.9%,#fde2c4 65.3%,#fcd5ab 66.7%,#fbc993 68.1%,#fac07f 69.4%,#f9b86f 70.8%,#f8b060 72.2%,#f7a754 73.6%,#f59e48 75%,#f49338 76.4%,#f18225 79.2%,#e76326 83.3%,#d94328 87.5%,#cd2e28 91.7%,#c42b26 95.8%,#bb2a24 100%)"></i>
<i style="top:305px;left:559.0px;width:382.1px;background:linear-gradient(90deg,#f07f25 0%,#f08025 4.2%,#f18125 8.3%,#f18225 12.5%,#f18426 16.7%,#f28526 20.8%,#f28627 25%,#f38b2c 29.2%,#f38f32 33.3%,#f5983f 37.5%,#f6a24c 41.7%,#f7a754 43.1%,#f8ad5c 44.4%,#f8b264 45.8%,#f9b86f 47.2%,#f9be7c 48.6%,#fac68b 50%,#fbce9b 51.4%,#fcd8af 52.8%,#fde3c7 54.2%,#fff0e0 55.6%,#fff8f0 56.9%,#fffdfb 58.3%,#ffffff 59.7%,#fffdfb 61.1%,#fff7ee 62.5%,#ffefde 63.9%,#fde1c2 65.3%,#fcd5a9 66.7%,#fac991 68.1%,#f9bf7e 69.4%,#f9b76e 70.8%,#f8af5f 72.2%,#f7a653 73.6%,#f59e47 75%,#f49237 76.4%,#f18225 79.2%,#e66226 83.3%,#d84228 87.5%,#cd2d28 91.7%,#c42b26 95.8%,#bb2a24 100%)"></i>
<i style="top:307px;left:559.1px;width:381.7px;background:linear-gradient(90deg,#f07f25 0%,#f08025 4.2%,#f08125 8.3%,#f18225 12.5%,#f18326 16.7%,#f28526 20.8%,#f28626 25%,#f38a2b 29.2%,#f38e31 33.3%,#f4973e 37.5%,#f6a14b 41.7%,#f7a653 43.1%,#f7ac5b 44.4%,#f8b163 45.8%,#f9b76e 47.2%,#f9bd7b 48.6%,#fac58a 50%,#fbcd99 51.4%,#fcd7ad 52.8%,#fde2c4 54.2%,#ffefdd 55.6%,#fff6ed 56.9%,#fffcf8 58.3%,#fffefe 59.7%,#fffbf8 61.1%,#fff6eb 62.5%,#ffedda 63.9%,#fde0c0 65.3%,#fcd3a7 66.7%,#fac890 68.1%,#f9be7c 69.4%,#f9b66d 70.8%,#f8af5e 72.2%,#f7a652 73.6%,#f59d46 75%,#f49236 76.4%,#f18225 79.2%,#e66126 83.3%,#d84228 87.5%,#cc2d28 91.7%,#c32b26 95.8%,#bb2a24 100%)"></i>
<i style="top:309px;left:559.4px;width:381.2px;background:linear-gradient(90deg,#f07f25 0%,#f08025 4.2%,#f08025 8.3%,#f18225 12.5%,#f18326 16.7%,#f28426 20.8%,#f28626 25%,#f2892b 29.2%,#f38d30 33.3%,#f4973d 37.5%,#f6a04a 41.7%,#f7a652 43.1%,#f7ab5a 44.4%,#f8b162 45.8%,#f9b76d 47.2%,#f9bd7a 48.6%,#fac488 50%,#fbcc97 51.4%,#fcd5ab 52.8%,#fde1c1 54.2%,#ffedda 55.6%,#fff5ea 56.9%,#fffaf5 58.3%,#fffdfa 59.7%,#fffaf4 61.1%,#fff4e8 62.5%,#feebd7 63.9%,#fddebd 65.3%,#fbd2a5 66.7%,#fac78e 68.1%,#f9bd7b 69.4%,#f9b66b 70.8%,#f8ae5d 72.2%,#f6a551 73.6%,#f59c45 75%,#f49135 76.4%,#f18125 79.2%,#e66026 83.3%,#d84128 87.5%,#cc2c28 91.7%,#c32b26 95.8%,#ba2a24 100%)"></i>
<i style="top:311px;left:559.8px;width:380.5px;background:linear-gradient(90deg,#f07e25 0%,#f07f25 4.2%,#f08025 8.3%,#f18125 12.5%,#f18326 16.7%,#f18426 20.8%,#f28526 25%,#f2892a 29.2%,#f38d2f 33.3%,#f4963c 37.5%,#f69f49 41.7%,#f6a551 43.1%,#f7ab59 44.4%,#f8b061 45.8%,#f9b66c 47.2%,#f9bc78 48.6%,#fac387 50%,#fbcb95 51.4%,#fcd4a8 52.8%,#fddfbe 54.2%,#feebd6 55.6%,#fff3e6 56.9%,#fff8f1 58.3%,#fffbf6 59.7%,#fff8f0 61.1%,#fff2e5 62.5%,#fee9d3 63.9%,#fdddb9 65.3%,#fbd1a2 66.7%,#fac68c 68.1%,#f9bd79 69.4%,#f8b56a 70.8%,#f8ad5c 72.2%,#f6a44f 73.6%,#f59b44 75%,#f39034 76.4%,#f18125 79.2%,#e55f26 83.3%,#d74028 87.5%,#cc2c28 91.7%,#c32b26 95.8%,#ba2a24 100%)"></i>
<i style="top:313px;left:560.2px;width:379.6px;background:linear-gradient(90deg,#f07e25 0%,#f07f25 4.2%,#f08025 8.3%,#f18125 12.5%,#f18326 16.7%,#f18426 20.8%,#f28526 25%,#f28829 29.2%,#f38c2e 33.3%,#f4953b 37.5%,#f69f48 41.7%,#f6a450 43.1%,#f7aa58 44.4%,#f8b060 45.8%,#f9b56b 47.2%,#f9bb77 48.6%,#fac285 50%,#fbca93 51.4%,#fbd3a5 52.8%,#fdddba 54.2%,#fee9d1 55.6%,#fff1e2 56.9%,#fff6ec 58.3%,#fff8f1 59.7%,#fff6eb 61.1%,#fff0e1 62.5%,#fee7ce 63.9%,#fcdbb6 65.3%,#fbd09f 66.7%,#fac58a 68.1%,#f9bc78 69.4%,#f8b469 70.8%,#f7ac5b 72.2%,#f6a34e 73.6%,#f59b43 75%,#f39033 76.4%,#f18125 79.2%,#e55e27 83.3%,#d74028 87.5%,#cb2c28 91.7%,#c32b26 95.8%,#ba2a24 100%)"></i>
<i style="top:315px;left:560.7px;width:378.6px;background:linear-gradient(90deg,#f07e25 0%,#f07f25 4.2%,#f08025 8.3%,#f18125 12.5%,#f18225 16.7%,#f18426 20.8%,#f28526 25%,#f28728 29.2%,#f38b2d 33.3%,#f4953a 37.5%,#f59e47 41.7%,#f6a44f 43.1%,#f7a956 44.4%,#f8af5e 45.8%,#f8b569 47.2%,#f9bb75 48.6%,#fac283 50%,#fac991 51.4%,#fbd1a2 52.8%,#fcdbb7 54.2%,#fee6cc 55.6%,#ffeedd 56.9%,#fff4e7 58.3%,#fff6ec 59.7%,#fff3e7 61.1%,#ffeddb 62.5%,#fee5c9 63.9%,#fcd9b2 65.3%,#fbce9c 66.7%,#fac488 68.1%,#f9bb76 69.4%,#f8b467 70.8%,#f7ab5a 72.2%,#f6a24d 73.6%,#f59a42 75%,#f38f32 76.4%,#f08125 79.2%,#e55e27 83.3%,#d63f28 87.5%,#cb2c28 91.7%,#c22b26 95.8%,#b92a24 100%)"></i>
<i style="top:317px;left:561.3px;width:377.5px;background:linear-gradient(90deg,#f07e25 0%,#f07f25 4.2%,#f07f25 8.3%,#f08125 12.5%,#f18225 16.7%,#f18326 20.8%,#f28526 25%,#f28727 29.2%,#f38b2d 33.3%,#f49439 37.5%,#f59d46 41.7%,#f6a34e 43.1%,#f7a855 44.4%,#f8ae5d 45.8%,#f8b468 47.2%,#f9ba74 48.6%,#fac181 50%,#fac78f 51.4%,#fbd09f 52.8%,#fcd9b3 54.2%,#fde4c7 55.6%,#feebd7 56.9%,#fff1e2 58.3%,#fff3e7 59.7%,#fff1e1 61.1%,#feead5 62.5%,#fde2c4 63.9%,#fcd7ae 65.3%,#fbcd99 66.7%,#fac385 68.1%,#f9ba74 69.4%,#f8b366 70.8%,#f7ab58 72.2%,#f6a24c 73.6%,#f59941 75%,#f38e31 76.4%,#f08025 79.2%,#e45d27 83.3%,#d63e28 87.5%,#cb2c28 91.7%,#c22b26 95.8%,#b92a24 100%)"></i>
<i style="top:319px;left:561.9px;width:376.2px;background:linear-gradient(90deg,#f07d25 0%,#f07e25 4.2%,#f07f25 8.3%,#f08025 12.5%,#f18225 16.7%,#f18326 20.8%,#f28426 25%,#f28626 29.2%,#f38a2c 33.3%,#f49338 37.5%,#f59d45 41.7%,#f6a24d 43.1%,#f7a854 44.4%,#f8ad5c 45.8%,#f8b367 47.2%,#f9b972 48.6%,#fac080 50%,#fac68d 51.4%,#fbce9c 52.8%,#fcd7af 54.2%,#fde1c2 55.6%,#fee8d1 56.9%,#ffeedc 58.3%,#fff1e1 59.7%,#ffeddb 61.1%,#fee7cf 62.5%,#fde0bf 63.9%,#fcd5aa 65.3%,#fbcb96 66.7%,#fac283 68.1%,#f9b973 69.4%,#f8b264 70.8%,#f7aa57 72.2%,#f6a14b 73.6%,#f59940 75%,#f38e30 76.4%,#f08025 79.2%,#e45c27 83.3%,#d63d28 87.5%,#ca2c28 91.7%,#c22b26 95.8%,#b92a24 100%)"></i>
<i style="top:321px;left:562.7px;width:374.7px;background:linear-gradient(90deg,#ef7d25 0%,#f07e25 4.2%,#f07f25 8.3%,#f08025 12.5%,#f18125 16.7%,#f18326 20.8%,#f18426 25%,#f28626 29.2%,#f2892a 33.3%,#f49237 37.5%,#f59b43 41.7%,#f6a14b 43.1%,#f7a653 44.4%,#f7ac5a 45.8%,#f8b265 47.2%,#f9b870 48.6%,#f9be7d 50%,#fac589 51.4%,#fbcc98 52.8%,#fcd5aa 54.2%,#fddebc 55.6%,#fee5c9 56.9%,#feead4 58.3%,#ffedda 59.7%,#fee9d3 61.1%,#fde4c7 62.5%,#fdddb9 63.9%,#fbd3a5 65.3%,#fbc992 66.7%,#fac080 68.1%,#f9b870 69.4%,#f8b162 70.8%,#f7a855 72.2%,#f6a049 73.6%,#f4973e 75%,#f38c2f 76.4%,#f08025 79.2%,#e45a27 83.3%,#d53c28 87.5%,#ca2c28 91.7%,#c12b26 95.8%,#b82a24 100%)"></i>
<i style="top:323px;left:563.5px;width:373.0px;background:linear-gradient(90deg,#ef7c25 0%,#ef7d25 4.2%,#f07e25 8.3%,#f07f25 12.5%,#f08125 16.7%,#f18225 20.8%,#f18326 25%,#f28526 29.2%,#f28728 33.3%,#f39034 37.5%,#f59a41 41.7%,#f69f49 43.1%,#f6a450 44.4%,#f7aa58 45.8%,#f8b162 47.2%,#f9b76d 48.6%,#f9bd7a 50%,#fac385 51.4%,#fbca93 52.8%,#fbd2a4 54.2%,#fcdab5 55.6%,#fde1c1 56.9%,#fee6cb 58.3%,#fee8d0 59.7%,#fee5ca 61.1%,#fde0bf 62.5%,#fcd9b2 63.9%,#fbd09f 65.3%,#fac78d 66.7%,#f9be7c 68.1%,#f9b66d 69.4%,#f8af5f 70.8%,#f7a653 72.2%,#f59e47 73.6%,#f4963c 75%,#f38b2c 76.4%,#f07f25 79.2%,#e35827 83.3%,#d43b28 87.5%,#c92c27 91.7%,#c02b25 95.8%,#b72a23 100%)"></i>
<i style="top:325px;left:564.4px;width:371.2px;background:linear-gradient(90deg,#ef7c25 0%,#ef7d25 4.2%,#f07d25 8.3%,#f07f25 12.5%,#f08025 16.7%,#f18125 20.8%,#f18326 25%,#f18426 29.2%,#f28626 33.3%,#f38f32 37.5%,#f5983f 41.7%,#f59d46 43.1%,#f6a34e 44.4%,#f7a855 45.8%,#f8af5f 47.2%,#f8b56a 48.6%,#f9bb76 50%,#fac181 51.4%,#fac78f 52.8%,#fbcf9e 54.2%,#fcd7ae 55.6%,#fdddb9 56.9%,#fde1c2 58.3%,#fde4c7 59.7%,#fde1c1 61.1%,#fcdcb7 62.5%,#fcd6ab 63.9%,#fbcd99 65.3%,#fac489 66.7%,#f9bc78 68.1%,#f8b569 69.4%,#f8ad5c 70.8%,#f6a550 72.2%,#f59c45 73.6%,#f49439 75%,#f2892a 76.4%,#f07e25 79.2%,#e25627 83.3%,#d33928 87.5%,#c82c27 91.7%,#c02b25 95.8%,#b62a23 100%)"></i>
<i style="top:327px;left:565.4px;width:369.2px;background:linear-gradient(90deg,#ef7b24 0%,#ef7c25 4.2%,#ef7d25 8.3%,#f07e25 12.5%,#f07f25 16.7%,#f08125 20.8%,#f18225 25%,#f18426 29.2%,#f28526 33.3%,#f38d30 37.5%,#f4963c 41.7%,#f59b44 43.1%,#f6a14b 44.4%,#f7a653 45.8%,#f8ad5c 47.2%,#f8b367 48.6%,#f9b973 50%,#f9bf7d 51.4%,#fac58a 52.8%,#fbcc98 54.2%,#fcd4a7 55.6%,#fcd9b2 56.9%,#fdddba 58.3%,#fddfbf 59.7%,#fddcb9 61.1%,#fcd8b0 62.5%,#fbd2a4 63.9%,#fbca94 65.3%,#fac284 66.7%,#f9ba74 68.1%,#f8b366 69.4%,#f7ab5a 70.8%,#f6a34e 72.2%,#f59a42 73.6%,#f49237 75%,#f28728 76.4%,#f07e25 79.2%,#e25428 83.3%,#d23728 87.5%,#c82c27 91.7%,#bf2b25 95.8%,#b62923 100%)"></i>
<i style="top:329px;left:566.4px;width:367.1px;background:linear-gradient(90deg,#ef7b24 0%,#ef7b24 4.2%,#ef7c25 8.3%,#f07d25 12.5%,#f07f25 16.7%,#f08025 20.8%,#f18125 25%,#f18326 29.2%,#f28526 33.3%,#f38b2d 37.5%,#f4943a 41.7%,#f59a41 43.1%,#f69f49 44.4%,#f6a450 45.8%,#f7ab5a 47.2%,#f8b264 48.6%,#f9b86f 50%,#f9bd7a 51.4%,#fac385 52.8%,#fbc993 54.2%,#fbd0a1 55.6%,#fcd5aa 56.9%,#fcd9b2 58.3%,#fcdbb6 59.7%,#fcd8b1 61.1%,#fcd4a8 62.5%,#fbcf9e 63.9%,#fac78e 65.3%,#fac080 66.7%,#f9b870 68.1%,#f8b163 69.4%,#f7a957 70.8%,#f6a14b 72.2%,#f59940 73.6%,#f39034 75%,#f28626 76.4%,#ef7d25 79.2%,#e15228 83.3%,#d13628 87.5%,#c72b27 91.7%,#be2a25 95.8%,#b52923 100%)"></i>
<i style="top:331px;left:567.6px;width:364.8px;background:linear-gradient(90deg,#ef7a24 0%,#ef7b24 4.2%,#ef7b24 8.3%,#ef7d25 12.5%,#f07e25 16.7%,#f07f25 20.8%,#f08025 25%,#f18225 29.2%,#f18426 33.3%,#f2892b 37.5%,#f49237 41.7%,#f4973e 43.1%,#f59d45 44.4%,#f6a24d 45.8%,#f7a956 47.2%,#f8b060 48.6%,#f9b66b 50%,#f9bb75 51.4%,#fac080 52.8%,#fac68c 54.2%,#fbcd9a 55.6%,#fbd1a2 56.9%,#fcd5a9 58.3%,#fcd7ad 59.7%,#fcd4a8 61.1%,#fbd0a0 62.5%,#fbcb97 63.9%,#fac488 65.3%,#f9bd7a 66.7%,#f9b66c 68.1%,#f8af5f 69.4%,#f7a753 70.8%,#f59e48 72.2%,#f4963c 73.6%,#f38e31 75%,#f28526 76.4%,#ef7c25 79.2%,#e05028 83.3%,#d03428 87.5%,#c62b27 91.7%,#bd2a25 95.8%,#b42923 100%)"></i>
<i style="top:333px;left:568.9px;width:362.3px;background:linear-gradient(90deg,#ee7924 0%,#ee7a24 4.2%,#ef7a24 8.3%,#ef7c25 12.5%,#ef7d25 16.7%,#f07e25 20.8%,#f07f25 25%,#f18125 29.2%,#f18326 33.3%,#f28727 37.5%,#f39033 41.7%,#f4953a 43.1%,#f59a42 44.4%,#f69f49 45.8%,#f7a652 47.2%,#f8ad5c 48.6%,#f8b366 50%,#f9b870 51.4%,#f9bd7a 52.8%,#fac386 54.2%,#fac992 55.6%,#fbcd9a 56.9%,#fbd0a0 58.3%,#fbd2a4 59.7%,#fbd09f 61.1%,#fbcc98 62.5%,#fac88f 63.9%,#fac182 65.3%,#f9ba75 66.7%,#f8b367 68.1%,#f7ac5a 69.4%,#f6a44f 70.8%,#f59c44 72.2%,#f49439 73.6%,#f38c2e 75%,#f18426 76.4%,#ef7b24 79.2%,#de4d28 83.3%,#cf3128 87.5%,#c52b26 91.7%,#bc2a25 95.8%,#b22922 100%)"></i>
<i style="top:335px;left:570.2px;width:359.6px;background:linear-gradient(90deg,#ee7824 0%,#ee7924 4.2%,#ee7a24 8.3%,#ef7b24 12.5%,#ef7c25 16.7%,#ef7d25 20.8%,#f07e25 25%,#f08025 29.2%,#f18225 33.3%,#f28526 37.5%,#f38d30 41.7%,#f49237 43.1%,#f4973e 44.4%,#f59d45 45.8%,#f6a34e 47.2%,#f7aa58 48.6%,#f8b162 50%,#f9b56b 51.4%,#f9ba75 52.8%,#fac07f 54.2%,#fac58b 55.6%,#fac992 56.9%,#fbcc97 58.3%,#fbce9b 59.7%,#fbcb96 61.1%,#fac890 62.5%,#fac488 63.9%,#f9be7b 65.3%,#f9b76f 66.7%,#f8b162 68.1%,#f7a956 69.4%,#f6a14b 70.8%,#f59940 72.2%,#f49135 73.6%,#f2892a 75%,#f18326 76.4%,#ef7a24 79.2%,#dd4a28 83.3%,#cd2f28 87.5%,#c42b26 91.7%,#bb2a24 95.8%,#b12922 100%)"></i>
<i style="top:337px;left:571.6px;width:356.8px;background:linear-gradient(90deg,#ed7424 0%,#ee7724 4.2%,#ee7924 8.3%,#ef7a24 12.5%,#ef7b24 16.7%,#ef7c25 20.8%,#f07d25 25%,#f07f25 29.2%,#f08125 33.3%,#f18426 37.5%,#f38a2c 41.7%,#f38f33 43.1%,#f4953a 44.4%,#f59a41 45.8%,#f6a04a 47.2%,#f7a754 48.6%,#f8ae5d 50%,#f8b366 51.4%,#f9b86f 52.8%,#f9bd79 54.2%,#fac284 55.6%,#fac58a 56.9%,#fac88f 58.3%,#fbc993 59.7%,#fac78e 61.1%,#fac488 62.5%,#fac081 63.9%,#f9ba75 65.3%,#f8b569 66.7%,#f8ae5d 68.1%,#f7a652 69.4%,#f59e47 70.8%,#f4963c 72.2%,#f38e31 73.6%,#f28727 75%,#f18225 76.4%,#ee7924 79.2%,#db4828 83.3%,#cc2c28 87.5%,#c22b26 91.7%,#ba2a24 95.8%,#b02922 100%)"></i>
<i style="top:339px;left:573.1px;width:353.7px;background:linear-gradient(90deg,#eb7125 0%,#ed7424 4.2%,#ee7724 8.3%,#ee7924 12.5%,#ef7a24 16.7%,#ef7b24 20.8%,#ef7c25 25%,#f07e25 29.2%,#f08025 33.3%,#f18326 37.5%,#f28828 41.7%,#f38d2f 43.1%,#f49236 44.4%,#f4973d 45.8%,#f59d46 47.2%,#f6a44f 48.6%,#f7ab59 50%,#f8b061 51.4%,#f8b56a 52.8%,#f9ba73 54.2%,#f9be7d 55.6%,#fac183 56.9%,#fac487 58.3%,#fac58b 59.7%,#fac386 61.1%,#fac081 62.5%,#f9bd7a 63.9%,#f9b76f 65.3%,#f8b264 66.7%,#f7aa58 68.1%,#f6a34e 69.4%,#f59b43 70.8%,#f49338 72.2%,#f38c2e 73.6%,#f28526 75%,#f18125 76.4%,#ee7824 79.2%,#da4528 83.3%,#cb2c28 87.5%,#c12b26 91.7%,#b92a24 95.8%,#af2922 100%)"></i>
<i style="top:341px;left:574.8px;width:350.5px;background:linear-gradient(90deg,#ea6d25 0%,#eb7025 4.2%,#ec7325 8.3%,#ee7724 12.5%,#ee7924 16.7%,#ef7a24 20.8%,#ef7b24 25%,#ef7d25 29.2%,#f07e25 33.3%,#f18225 37.5%,#f28526 41.7%,#f38a2b 43.1%,#f38f32 44.4%,#f49439 45.8%,#f59a42 47.2%,#f6a14b 48.6%,#f7a754 50%,#f8ad5b 51.4%,#f8b264 52.8%,#f9b66d 54.2%,#f9bb76 55.6%,#f9bd7b 56.9%,#fac07f 58.3%,#fac183 59.7%,#fabf7e 61.1%,#f9bd79 62.5%,#f9ba73 63.9%,#f8b468 65.3%,#f8af5e 66.7%,#f7a753 68.1%,#f69f49 69.4%,#f5983f 70.8%,#f39034 72.2%,#f2892a 73.6%,#f18426 75%,#f08025 76.4%,#ed7624 79.2%,#d84228 83.3%,#c92c27 87.5%,#c02b25 91.7%,#b72a23 95.8%,#ad2821 100%)"></i>
<i style="top:343px;left:576.5px;width:347.0px;background:linear-gradient(90deg,#e86826 0%,#e96b25 4.2%,#eb6e25 8.3%,#ec7225 12.5%,#ee7724 16.7%,#ee7924 20.8%,#ef7a24 25%,#ef7c25 29.2%,#ef7d25 33.3%,#f08125 37.5%,#f18426 41.7%,#f28626 43.1%,#f38b2d 44.4%,#f39034 45.8%,#f4963d 47.2%,#f59d46 48.6%,#f6a34f 50%,#f7a956 51.4%,#f8ae5d 52.8%,#f8b366 54.2%,#f9b76e 55.6%,#f9b973 56.9%,#f9bb77 58.3%,#f9bd7a 59.7%,#f9bb76 61.1%,#f9b971 62.5%,#f9b66c 63.9%,#f8b162 65.3%,#f7aa58 66.7%,#f6a34e 68.1%,#f59b43 69.4%,#f4943a 70.8%,#f38d2f 72.2%,#f28626 73.6%,#f18326 75%,#f07e25 76.4%,#ec7125 79.2%,#d63e28 83.3%,#c82c27 87.5%,#bf2b25 91.7%,#b62923 95.8%,#ac2821 100%)"></i>
<i style="top:345px;left:578.3px;width:343.4px;background:linear-gradient(90deg,#e76426 0%,#e86726 4.2%,#e96925 8.3%,#ea6e25 12.5%,#ec7225 16.7%,#ed7624 20.8%,#ee7924 25%,#ef7a24 29.2%,#ef7c25 33.3%,#f07f25 37.5%,#f18326 41.7%,#f28526 43.1%,#f28828 44.4%,#f38d2f 45.8%,#f49338 47.2%,#f59940 48.6%,#f69f49 50%,#f6a450 51.4%,#f7aa57 52.8%,#f8af5f 54.2%,#f8b467 55.6%,#f9b66b 56.9%,#f9b86f 58.3%,#f9b972 59.7%,#f9b76e 61.1%,#f8b569 62.5%,#f8b264 63.9%,#f7ac5b 65.3%,#f7a652 66.7%,#f69f48 68.1%,#f4973e 69.4%,#f49135 70.8%,#f2892a 72.2%,#f18426 73.6%,#f18125 75%,#ef7d25 76.4%,#ea6c25 79.2%,#d43a28 83.3%,#c62b27 87.5%,#bd2a25 91.7%,#b42923 95.8%,#aa2821 100%)"></i>
<i style="top:347px;left:580.2px;width:339.5px;background:linear-gradient(90deg,#e55d27 0%,#e66026 4.2%,#e76326 8.3%,#e86726 12.5%,#ea6b25 16.7%,#eb7025 20.8%,#ed7424 25%,#ee7824 29.2%,#ef7a24 33.3%,#f07d25 37.5%,#f08125 41.7%,#f18326 43.1%,#f28526 44.4%,#f28828 45.8%,#f38e30 47.2%,#f49439 48.6%,#f59a41 50%,#f69f48 51.4%,#f6a44f 52.8%,#f7a956 54.2%,#f8ae5e 55.6%,#f8b161 56.9%,#f8b265 58.3%,#f8b468 59.7%,#f8b264 61.1%,#f8b060 62.5%,#f7ac5b 63.9%,#f7a653 65.3%,#f6a04a 66.7%,#f59940 68.1%,#f49237 69.4%,#f38b2d 70.8%,#f28526 72.2%,#f18225 73.6%,#f07f25 75%,#ef7b24 76.4%,#e86626 79.2%,#d13528 83.3%,#c42b26 87.5%,#bb2a24 91.7%,#b22922 95.8%,#a82820 100%)"></i>
<i style="top:349px;left:582.3px;width:335.5px;background:linear-gradient(90deg,#e25528 0%,#e35727 4.2%,#e45a27 8.3%,#e55e27 12.5%,#e66326 16.7%,#e86726 20.8%,#e96b25 25%,#eb7025 29.2%,#ed7624 33.3%,#ef7b24 37.5%,#f07e25 41.7%,#f08025 43.1%,#f18225 44.4%,#f18426 45.8%,#f28727 47.2%,#f38d2f 48.6%,#f49337 50%,#f4973e 51.4%,#f59c45 52.8%,#f6a14b 54.2%,#f7a652 55.6%,#f7a856 56.9%,#f7ab59 58.3%,#f8ad5b 59.7%,#f7aa58 61.1%,#f7a754 62.5%,#f6a450 63.9%,#f59e48 65.3%,#f59940 66.7%,#f49236 68.1%,#f38b2d 69.4%,#f28526 70.8%,#f18225 72.2%,#f07f25 73.6%,#ef7d25 75%,#ee7924 76.4%,#e55d27 79.2%,#ce2f28 83.3%,#c12b26 87.5%,#b82a24 91.7%,#ae2822 95.8%,#a52720 100%)"></i>
<i style="top:351px;left:584.4px;width:331.2px;background:linear-gradient(90deg,#de4d28 0%,#df4f28 4.2%,#e15228 8.3%,#e25627 12.5%,#e35a27 16.7%,#e55e27 20.8%,#e66226 25%,#e86726 29.2%,#ea6d25 33.3%,#ee7824 37.5%,#ef7b24 41.7%,#f07d25 43.1%,#f07f25 44.4%,#f18125 45.8%,#f18326 47.2%,#f28626 48.6%,#f38b2e 50%,#f39034 51.4%,#f4953a 52.8%,#f59941 54.2%,#f59e47 55.6%,#f6a04a 56.9%,#f6a24d 58.3%,#f6a450 59.7%,#f6a24c 61.1%,#f69f49 62.5%,#f59c45 63.9%,#f4973d 65.3%,#f49135 66.7%,#f38b2c 68.1%,#f28526 69.4%,#f18326 70.8%,#f08025 72.2%,#ef7d25 73.6%,#ef7a24 75%,#ec7125 76.4%,#e25428 79.2%,#ca2c28 83.3%,#be2a25 87.5%,#b42923 91.7%,#ab2821 95.8%,#a2271f 100%)"></i>
<i style="top:353px;left:586.7px;width:326.6px;background:linear-gradient(90deg,#da4628 0%,#dc4828 4.2%,#dd4b28 8.3%,#df4e28 12.5%,#e15228 16.7%,#e25627 20.8%,#e35a27 25%,#e55f26 29.2%,#e76426 33.3%,#eb7025 37.5%,#ee7924 41.7%,#ef7b24 43.1%,#ef7d25 44.4%,#f07f25 45.8%,#f18125 47.2%,#f18326 48.6%,#f28626 50%,#f2892b 51.4%,#f38e31 52.8%,#f49237 54.2%,#f4973d 55.6%,#f59940 56.9%,#f59b43 58.3%,#f59d45 59.7%,#f59a42 61.1%,#f5983f 62.5%,#f4953b 63.9%,#f39034 65.3%,#f38b2c 66.7%,#f28526 68.1%,#f18326 69.4%,#f08025 70.8%,#f07d25 72.2%,#ef7a24 73.6%,#ee7724 75%,#e96926 76.4%,#de4d28 79.2%,#c72b27 83.3%,#bb2a24 87.5%,#b12922 91.7%,#a82820 95.8%,#9f261f 100%)"></i>
<i style="top:355px;left:589.1px;width:321.9px;background:linear-gradient(90deg,#d74028 0%,#d84228 4.2%,#da4528 8.3%,#dc4828 12.5%,#de4c28 16.7%,#e04f28 20.8%,#e15328 25%,#e35827 29.2%,#e55d27 33.3%,#e96926 37.5%,#ed7524 41.7%,#ee7924 43.1%,#ef7b24 44.4%,#ef7d25 45.8%,#f07f25 47.2%,#f18125 48.6%,#f18326 50%,#f28526 51.4%,#f28829 52.8%,#f38c2f 54.2%,#f49135 55.6%,#f49338 56.9%,#f4953a 58.3%,#f4963c 59.7%,#f49439 61.1%,#f49236 62.5%,#f38f33 63.9%,#f38a2c 65.3%,#f28626 66.7%,#f18326 68.1%,#f08025 69.4%,#f07e25 70.8%,#ef7b24 72.2%,#ee7824 73.6%,#eb6f25 75%,#e66226 76.4%,#db4728 79.2%,#c52b26 83.3%,#b92a24 87.5%,#af2822 91.7%,#a62720 95.8%,#9d261e 100%)"></i>
<i style="top:357px;left:591.6px;width:316.8px;background:linear-gradient(90deg,#d43a28 0%,#d53c28 4.2%,#d63f28 8.3%,#d84228 12.5%,#da4628 16.7%,#dc4928 20.8%,#de4c28 25%,#e05128 29.2%,#e25627 33.3%,#e66126 37.5%,#ea6d25 41.7%,#ec7424 43.1%,#ee7924 44.4%,#ef7a24 45.8%,#ef7d25 47.2%,#f07f25 48.6%,#f18125 50%,#f18326 51.4%,#f28426 52.8%,#f28727 54.2%,#f38b2d 55.6%,#f38d2f 56.9%,#f38e31 58.3%,#f39034 59.7%,#f38e31 61.1%,#f38b2e 62.5%,#f2892a 63.9%,#f28526 65.3%,#f18326 66.7%,#f08125 68.1%,#f07e25 69.4%,#ef7c25 70.8%,#ee7924 72.2%,#ec7225 73.6%,#e86826 75%,#e45a27 76.4%,#d84128 79.2%,#c22b26 83.3%,#b62923 87.5%,#ac2821 91.7%,#a3271f 95.8%,#9b261e 100%)"></i>
<i style="top:359px;left:594.2px;width:311.5px;background:linear-gradient(90deg,#d03428 0%,#d23628 4.2%,#d33828 8.3%,#d53c28 12.5%,#d63f28 16.7%,#d84228 20.8%,#da4628 25%,#dd4a28 29.2%,#df4e28 33.3%,#e35927 37.5%,#e76426 41.7%,#e96b25 43.1%,#ec7225 44.4%,#ee7824 45.8%,#ef7a24 47.2%,#ef7c25 48.6%,#f07f25 50%,#f08025 51.4%,#f18225 52.8%,#f18426 54.2%,#f28526 55.6%,#f28626 56.9%,#f28828 58.3%,#f2892a 59.7%,#f28727 61.1%,#f28626 62.5%,#f28526 63.9%,#f18326 65.3%,#f08125 66.7%,#f07e25 68.1%,#ef7c25 69.4%,#ee7924 70.8%,#ec7324 72.2%,#e96925 73.6%,#e55f26 75%,#e15228 76.4%,#d43a28 79.2%,#bf2b25 83.3%,#b32923 87.5%,#a92821 91.7%,#a1271f 95.8%,#98251d 100%)"></i>
<i style="top:361px;left:597.0px;width:305.9px;background:linear-gradient(90deg,#cc2d28 0%,#ce2f28 4.2%,#cf3128 8.3%,#d13428 12.5%,#d23828 16.7%,#d43b28 20.8%,#d63e28 25%,#d84228 29.2%,#db4728 33.3%,#e05028 37.5%,#e45b27 41.7%,#e66226 43.1%,#e86826 44.4%,#eb6e25 45.8%,#ed7624 47.2%,#ee7a24 48.6%,#ef7c25 50%,#f07d25 51.4%,#f07f25 52.8%,#f08125 54.2%,#f18225 55.6%,#f18326 56.9%,#f18426 58.3%,#f28426 59.7%,#f18326 61.1%,#f18326 62.5%,#f18225 63.9%,#f08025 65.3%,#f07e25 66.7%,#ef7b24 68.1%,#ee7924 69.4%,#ec7324 70.8%,#e96a25 72.2%,#e66026 73.6%,#e25627 75%,#dd4a28 76.4%,#d03328 79.2%,#bc2a24 83.3%,#af2922 87.5%,#a62720 91.7%,#9e261e 95.8%,#95241c 100%)"></i>
<i style="top:363px;left:600.0px;width:300.0px;background:linear-gradient(90deg,#ca2d28 0%,#cb2d28 4.2%,#cb2c28 8.3%,#cd2d28 12.5%,#ce3028 16.7%,#d03328 20.8%,#d23728 25%,#d43b28 29.2%,#d73f28 33.3%,#dc4828 37.5%,#e15228 41.7%,#e35827 43.1%,#e55e27 44.4%,#e76526 45.8%,#ea6c25 47.2%,#ed7424 48.6%,#ee7924 50%,#ef7b24 51.4%,#ef7c25 52.8%,#f07e25 54.2%,#f07f25 55.6%,#f08025 56.9%,#f08125 58.3%,#f18125 59.7%,#f08025 61.1%,#f08025 62.5%,#f07f25 63.9%,#ef7d25 65.3%,#ef7b24 66.7%,#ee7924 68.1%,#ec7225 69.4%,#e96925 70.8%,#e66026 72.2%,#e25727 73.6%,#df4e28 75%,#d84228 76.4%,#cc2c28 79.2%,#b92a24 83.3%,#ac2821 87.5%,#a3271f 91.7%,#9b261e 95.8%,#92241c 100%)"></i>
<i style="top:365px;left:603.1px;width:293.8px;background:linear-gradient(90deg,#c82f27 0%,#c82e27 4.2%,#c92e27 8.3%,#ca2d28 12.5%,#ca2d28 16.7%,#cb2c28 20.8%,#cc2d28 25%,#cf3128 29.2%,#d13528 33.3%,#d63e28 37.5%,#db4728 41.7%,#de4c28 43.1%,#e15228 44.4%,#e35827 45.8%,#e55f26 47.2%,#e86726 48.6%,#eb6e25 50%,#ed7424 51.4%,#ee7824 52.8%,#ef7a24 54.2%,#ef7b24 55.6%,#ef7c25 56.9%,#ef7d25 58.3%,#ef7d25 59.7%,#ef7c25 61.1%,#ef7c25 62.5%,#ef7b24 63.9%,#ee7924 65.3%,#ed7524 66.7%,#ea6d25 68.1%,#e76426 69.4%,#e45c27 70.8%,#e15328 72.2%,#dd4b28 73.6%,#d94328 75%,#d33828 76.4%,#c82c27 79.2%,#b42923 83.3%,#a72720 87.5%,#9e261e 91.7%,#96251d 95.8%,#8e231b 100%)"></i>
<i style="top:367px;left:606.4px;width:287.3px;background:linear-gradient(90deg,#c43126 0%,#c53027 4.2%,#c53027 8.3%,#c62f27 12.5%,#c72f27 16.7%,#c82e27 20.8%,#c92e27 25%,#ca2d28 29.2%,#cb2d28 33.3%,#ce3028 37.5%,#d33928 41.7%,#d63e28 43.1%,#d94328 44.4%,#dc4828 45.8%,#df4f28 47.2%,#e25627 48.6%,#e45d27 50%,#e66226 51.4%,#e86826 52.8%,#ea6d25 54.2%,#ec7225 55.6%,#ed7524 56.9%,#ee7724 58.3%,#ee7824 59.7%,#ed7624 61.1%,#ec7324 62.5%,#eb7025 63.9%,#e96a25 65.3%,#e76326 66.7%,#e45b27 68.1%,#e15428 69.4%,#de4c28 70.8%,#da4428 72.2%,#d53d28 73.6%,#d13528 75%,#cc2c28 76.4%,#c22c26 79.2%,#ad2821 83.3%,#a1271f 87.5%,#99251d 91.7%,#91241c 95.8%,#89221a 100%)"></i>
<i style="top:369px;left:609.8px;width:280.4px;background:linear-gradient(90deg,#c13326 0%,#c23226 4.2%,#c23226 8.3%,#c33126 12.5%,#c43126 16.7%,#c43126 20.8%,#c53027 25%,#c62f27 29.2%,#c72f27 33.3%,#c92e27 37.5%,#cc2c28 41.7%,#ce3028 43.1%,#d13528 44.4%,#d43a28 45.8%,#d74028 47.2%,#da4628 48.6%,#de4c28 50%,#e05128 51.4%,#e25627 52.8%,#e45b27 54.2%,#e66026 55.6%,#e66226 56.9%,#e76426 58.3%,#e86626 59.7%,#e76326 61.1%,#e66126 62.5%,#e55e27 63.9%,#e35827 65.3%,#e15228 66.7%,#dd4b28 68.1%,#d94428 69.4%,#d63d28 70.8%,#d23628 72.2%,#ce2f28 73.6%,#ca2c28 75%,#c62d27 76.4%,#bd2c25 79.2%,#a72720 83.3%,#9c261e 87.5%,#93241c 91.7%,#8c221a 95.8%,#852119 100%)"></i>
<i style="top:371px;left:613.5px;width:273.1px;background:linear-gradient(90deg,#bd3525 0%,#bd3525 4.2%,#be3425 8.3%,#bf3426 12.5%,#c03326 16.7%,#c13226 20.8%,#c23226 25%,#c33126 29.2%,#c43126 33.3%,#c62f27 37.5%,#c82e27 41.7%,#ca2d28 43.1%,#cb2d28 44.4%,#cc2d28 45.8%,#d03328 47.2%,#d33828 48.6%,#d63e28 50%,#d84228 51.4%,#db4728 52.8%,#dd4b28 54.2%,#e05028 55.6%,#e15128 56.9%,#e15328 58.3%,#e25527 59.7%,#e15328 61.1%,#e05028 62.5%,#df4e28 63.9%,#dc4928 65.3%,#d94328 66.7%,#d53d28 68.1%,#d23728 69.4%,#ce3028 70.8%,#cb2c28 72.2%,#c82d27 73.6%,#c62d27 75%,#c22d26 76.4%,#b72c24 79.2%,#a1271f 83.3%,#96251d 87.5%,#8e231b 91.7%,#872119 95.8%,#802018 100%)"></i>
<i style="top:373px;left:617.3px;width:265.4px;background:linear-gradient(90deg,#b93725 0%,#ba3725 4.2%,#bb3625 8.3%,#bc3625 12.5%,#bc3525 16.7%,#bd3525 20.8%,#be3425 25%,#c03326 29.2%,#c13326 33.3%,#c33126 37.5%,#c53027 41.7%,#c72f27 43.1%,#c82e27 44.4%,#c92e27 45.8%,#cb2d28 47.2%,#cc2d28 48.6%,#cf3228 50%,#d23628 51.4%,#d43a28 52.8%,#d63f28 54.2%,#d94328 55.6%,#da4428 56.9%,#da4628 58.3%,#db4828 59.7%,#da4528 61.1%,#d94328 62.5%,#d84128 63.9%,#d53c28 65.3%,#d23728 66.7%,#cf3128 68.1%,#cc2c28 69.4%,#ca2d28 70.8%,#c72d27 72.2%,#c42e26 73.6%,#c12e26 75%,#bd2d25 76.4%,#b22c23 79.2%,#9c261e 83.3%,#91241c 87.5%,#8a221a 91.7%,#832018 95.8%,#7d1f17 100%)"></i>
<i style="top:375px;left:621.4px;width:257.2px;background:linear-gradient(90deg,#b63924 0%,#b63924 4.2%,#b73824 8.3%,#b83825 12.5%,#b93725 16.7%,#ba3725 20.8%,#bb3625 25%,#bc3525 29.2%,#bd3525 33.3%,#c03326 37.5%,#c23226 41.7%,#c43126 43.1%,#c53027 44.4%,#c63027 45.8%,#c72f27 47.2%,#c92e27 48.6%,#ca2d28 50%,#cb2c28 51.4%,#cd2e28 52.8%,#cf3228 54.2%,#d13628 55.6%,#d23728 56.9%,#d33928 58.3%,#d43b28 59.7%,#d33928 61.1%,#d23628 62.5%,#d13428 63.9%,#ce3028 65.3%,#cc2c28 66.7%,#ca2d28 68.1%,#c82e27 69.4%,#c62e27 70.8%,#c32e26 72.2%,#c02e26 73.6%,#bd2e25 75%,#b82e24 76.4%,#ad2c22 79.2%,#97251d 83.3%,#8d231b 87.5%,#852119 91.7%,#7f2018 95.8%,#791e16 100%)"></i>
<i style="top:377px;left:625.7px;width:248.5px;background:linear-gradient(90deg,#b13923 0%,#b23924 4.2%,#b33a24 8.3%,#b43a24 12.5%,#b53924 16.7%,#b63924 20.8%,#b73824 25%,#b83825 29.2%,#b93725 33.3%,#bc3525 37.5%,#bf3426 41.7%,#c03326 43.1%,#c23226 44.4%,#c33126 45.8%,#c43126 47.2%,#c63027 48.6%,#c72f27 50%,#c82e27 51.4%,#c92e27 52.8%,#ca2d28 54.2%,#cb2c28 55.6%,#cc2c28 56.9%,#cc2c28 58.3%,#cd2e28 59.7%,#cc2c28 61.1%,#cb2c28 62.5%,#cb2d28 63.9%,#ca2d28 65.3%,#c82e27 66.7%,#c62f27 68.1%,#c42f26 69.4%,#c22f26 70.8%,#bf2f25 72.2%,#bc2f25 73.6%,#b82f24 75%,#b32e23 76.4%,#a82c21 79.2%,#92241c 83.3%,#88221a 87.5%,#812018 91.7%,#7b1f17 95.8%,#741d15 100%)"></i>
<i style="top:379px;left:630.4px;width:239.3px;background:linear-gradient(90deg,#ac3722 0%,#ad3722 4.2%,#ae3722 8.3%,#af3823 12.5%,#b13923 16.7%,#b23923 20.8%,#b33a24 25%,#b53a24 29.2%,#b63924 33.3%,#b83825 37.5%,#bb3625 41.7%,#bc3525 43.1%,#be3425 44.4%,#bf3426 45.8%,#c13226 47.2%,#c33226 48.6%,#c43126 50%,#c53027 51.4%,#c63027 52.8%,#c72f27 54.2%,#c82e27 55.6%,#c82e27 56.9%,#c92e27 58.3%,#c92e27 59.7%,#c92e27 61.1%,#c82e27 62.5%,#c82f27 63.9%,#c62f27 65.3%,#c53027 66.7%,#c33026 68.1%,#c13126 69.4%,#be3125 70.8%,#bb3125 72.2%,#b73024 73.6%,#b32f23 75%,#ae2f22 76.4%,#a32b20 79.2%,#8d231b 83.3%,#842119 87.5%,#7d1f17 91.7%,#771e16 95.8%,#701c14 100%)"></i>
<i style="top:381px;left:635.3px;width:229.4px;background:linear-gradient(90deg,#a83421 0%,#a83521 4.2%,#a93521 8.3%,#ab3621 12.5%,#ac3622 16.7%,#ad3722 20.8%,#ae3722 25%,#b03823 29.2%,#b23923 33.3%,#b53a24 37.5%,#b73824 41.7%,#b93725 43.1%,#ba3725 44.4%,#bc3625 45.8%,#bd3525 47.2%,#bf3426 48.6%,#c13326 50%,#c23226 51.4%,#c33126 52.8%,#c43126 54.2%,#c53027 55.6%,#c53027 56.9%,#c63027 58.3%,#c63027 59.7%,#c63027 61.1%,#c53027 62.5%,#c53027 63.9%,#c33126 65.3%,#c23226 66.7%,#c03226 68.1%,#bd3225 69.4%,#ba3224 70.8%,#b63224 72.2%,#b33123 73.6%,#af3022 75%,#a92f21 76.4%,#9d291e 79.2%,#89221a 83.3%,#802018 87.5%,#791e16 91.7%,#731d15 95.8%,#6c1b13 100%)"></i>
<i style="top:383px;left:640.6px;width:218.9px;background:linear-gradient(90deg,#a3321f 0%,#a43320 4.2%,#a43320 8.3%,#a63320 12.5%,#a73420 16.7%,#a83521 20.8%,#a93521 25%,#ab3621 29.2%,#ac3622 33.3%,#b03823 37.5%,#b33a24 41.7%,#b53924 43.1%,#b63924 44.4%,#b83825 45.8%,#b93725 47.2%,#bb3625 48.6%,#bd3525 50%,#be3425 51.4%,#bf3426 52.8%,#c13326 54.2%,#c23226 55.6%,#c23226 56.9%,#c33226 58.3%,#c33126 59.7%,#c23226 61.1%,#c23226 62.5%,#c13226 63.9%,#c03326 65.3%,#be3425 66.7%,#bb3425 68.1%,#b83424 69.4%,#b53324 70.8%,#b23323 72.2%,#ae3222 73.6%,#aa3021 75%,#a42d20 76.4%,#98281d 79.2%,#842119 83.3%,#7c1f17 87.5%,#751d15 91.7%,#6e1c14 95.8%,#681a12 100%)"></i>
<i style="top:385px;left:646.3px;width:207.5px;background:linear-gradient(90deg,#9e301e 0%,#9f301e 4.2%,#9f311e 8.3%,#a1311f 12.5%,#a2321f 16.7%,#a3321f 20.8%,#a43320 25%,#a53320 29.2%,#a73420 33.3%,#aa3621 37.5%,#ae3722 41.7%,#b03823 43.1%,#b23923 44.4%,#b43a24 45.8%,#b53924 47.2%,#b73824 48.6%,#b93725 50%,#ba3725 51.4%,#bb3625 52.8%,#bc3525 54.2%,#bd3525 55.6%,#be3425 56.9%,#be3425 58.3%,#bf3426 59.7%,#be3425 61.1%,#be3525 62.5%,#bd3525 63.9%,#bb3625 65.3%,#ba3725 66.7%,#b73624 68.1%,#b43624 69.4%,#b13523 70.8%,#ad3322 72.2%,#a83121 73.6%,#a42e20 75%,#9e2b1f 76.4%,#93261c 79.2%,#802018 83.3%,#771e16 87.5%,#701c14 91.7%,#6a1a12 95.8%,#631911 100%)"></i>
<i style="top:387px;left:652.4px;width:195.1px;background:linear-gradient(90deg,#982d1d 0%,#992e1d 4.2%,#992e1d 8.3%,#9b2f1d 12.5%,#9c2f1d 16.7%,#9d301e 20.8%,#9e301e 25%,#a0311e 29.2%,#a1311f 33.3%,#a43320 37.5%,#a73421 41.7%,#a93521 43.1%,#ab3622 44.4%,#ad3722 45.8%,#af3823 47.2%,#b23923 48.6%,#b43a24 50%,#b53924 51.4%,#b63924 52.8%,#b73824 54.2%,#b93725 55.6%,#b93725 56.9%,#b93725 58.3%,#ba3725 59.7%,#b93725 61.1%,#b93725 62.5%,#b83825 63.9%,#b73824 65.3%,#b53924 66.7%,#b23824 68.1%,#ae3622 69.4%,#aa3321 70.8%,#a63120 72.2%,#a22e1f 73.6%,#9d2c1e 75%,#98291d 76.4%,#8d251b 79.2%,#7b1f17 83.3%,#711c14 87.5%,#6b1b13 91.7%,#651911 95.8%,#5f1810 100%)"></i>
<i style="top:389px;left:659.2px;width:181.6px;background:linear-gradient(90deg,#922b1b 0%,#922b1b 4.2%,#932b1b 8.3%,#942c1c 12.5%,#952c1c 16.7%,#962d1c 20.8%,#982d1d 25%,#992e1d 29.2%,#9b2f1d 33.3%,#9e301e 37.5%,#a1311f 41.7%,#a3321f 43.1%,#a53320 44.4%,#a63420 45.8%,#a93521 47.2%,#ab3621 48.6%,#ad3722 50%,#af3823 51.4%,#b03823 52.8%,#b23923 54.2%,#b43a24 55.6%,#b43a24 56.9%,#b53a24 58.3%,#b53924 59.7%,#b43a24 61.1%,#b43a24 62.5%,#b33a24 63.9%,#b13923 65.3%,#af3823 66.7%,#ab3522 68.1%,#a73321 69.4%,#a33020 70.8%,#9f2e1f 72.2%,#9b2c1e 73.6%,#972a1d 75%,#92271b 76.4%,#872319 79.2%,#751d15 83.3%,#6c1b13 87.5%,#651911 91.7%,#601810 95.8%,#5a170f 100%)"></i>
<i style="top:391px;left:666.7px;width:166.7px;background:linear-gradient(90deg,#8b281a 0%,#8c291a 4.2%,#8d291a 8.3%,#8e291a 12.5%,#8f2a1a 16.7%,#902a1b 20.8%,#912b1b 25%,#922b1b 29.2%,#942c1c 33.3%,#972d1c 37.5%,#9a2e1d 41.7%,#9c2f1e 43.1%,#9e301e 44.4%,#a0311e 45.8%,#a2321f 47.2%,#a43320 48.6%,#a63420 50%,#a73421 51.4%,#a93521 52.8%,#aa3621 54.2%,#ac3622 55.6%,#ad3722 56.9%,#ad3722 58.3%,#ae3722 59.7%,#ad3722 61.1%,#ac3622 62.5%,#ab3622 63.9%,#a93521 65.3%,#a83421 66.7%,#a43220 68.1%,#a0301f 69.4%,#9c2e1e 70.8%,#982c1d 72.2%,#942a1c 73.6%,#90281b 75%,#8b251a 76.4%,#812218 79.2%,#6e1c14 83.3%,#661911 87.5%,#601810 91.7%,#5b170f 95.8%,#56150d 100%)"></i>
<i style="top:393px;left:675.1px;width:149.9px;background:linear-gradient(90deg,#852618 0%,#862618 4.2%,#862618 8.3%,#872719 12.5%,#882719 16.7%,#892719 20.8%,#8a2819 25%,#8c281a 29.2%,#8d291a 33.3%,#902a1b 37.5%,#932b1b 41.7%,#952c1c 43.1%,#962d1c 44.4%,#982e1d 45.8%,#9a2f1d 47.2%,#9d2f1e 48.6%,#9f301e 50%,#a0311f 51.4%,#a2321f 52.8%,#a3321f 54.2%,#a43320 55.6%,#a53320 56.9%,#a53320 58.3%,#a63420 59.7%,#a53320 61.1%,#a53320 62.5%,#a43320 63.9%,#a2321f 65.3%,#a0311f 66.7%,#9d2f1e 68.1%,#992d1d 69.4%,#952b1c 70.8%,#91291b 72.2%,#8d271a 73.6%,#892519 75%,#842318 76.4%,#7a2016 79.2%,#681a12 83.3%,#601810 87.5%,#5a170f 91.7%,#56150d 95.8%,#51140c 100%)"></i>
<i style="top:395px;left:684.8px;width:130.5px;background:linear-gradient(90deg,#7d2316 0%,#7e2316 4.2%,#7e2317 8.3%,#7f2317 12.5%,#802417 16.7%,#812417 20.8%,#822417 25%,#832518 29.2%,#842518 33.3%,#872719 37.5%,#8a2819 41.7%,#8b281a 43.1%,#8d291a 44.4%,#8e2a1a 45.8%,#902a1b 47.2%,#922b1b 48.6%,#942c1c 50%,#962d1c 51.4%,#972d1c 52.8%,#992e1d 54.2%,#9a2e1d 55.6%,#9b2f1d 56.9%,#9b2f1d 58.3%,#9c2f1e 59.7%,#9b2f1d 61.1%,#9a2f1d 62.5%,#9a2e1d 63.9%,#982d1d 65.3%,#962d1c 66.7%,#932b1b 68.1%,#8f291b 69.4%,#8b271a 70.8%,#882619 72.2%,#842418 73.6%,#802317 75%,#7b2116 76.4%,#711d14 79.2%,#601810 83.3%,#59160e 87.5%,#54150d 91.7%,#4f140c 95.8%,#4b130b 100%)"></i>
<i style="top:397px;left:696.5px;width:107.1px;background:linear-gradient(90deg,#741f14 0%,#742014 4.2%,#752014 8.3%,#762015 12.5%,#772015 16.7%,#782115 20.8%,#792115 25%,#7a2116 29.2%,#7c2216 33.3%,#7e2316 37.5%,#802417 41.7%,#822417 43.1%,#832518 44.4%,#852618 45.8%,#862618 47.2%,#882719 48.6%,#8a2819 50%,#8b281a 51.4%,#8d291a 52.8%,#8e291a 54.2%,#8f2a1b 55.6%,#902a1b 56.9%,#902a1b 58.3%,#912b1b 59.7%,#902a1b 61.1%,#8f2a1b 62.5%,#8f2a1a 63.9%,#8d291a 65.3%,#8c281a 66.7%,#882719 68.1%,#852518 69.4%,#812417 70.8%,#7e2217 72.2%,#7a2116 73.6%,#761f15 75%,#711e14 76.4%,#671b12 79.2%,#57160e 83.3%,#51140c 87.5%,#4d130b 91.7%,#49120a 95.8%,#451109 100%)"></i>
<i style="top:399px;left:712.0px;width:76.1px;background:linear-gradient(90deg,#691c12 0%,#6a1c12 4.2%,#6b1c12 8.3%,#6b1d12 12.5%,#6c1d12 16.7%,#6d1d13 20.8%,#6e1e13 25%,#6f1e13 29.2%,#711e13 33.3%,#731f14 37.5%,#762015 41.7%,#772115 43.1%,#792115 44.4%,#7b2216 45.8%,#7c2216 47.2%,#7e2316 48.6%,#802317 50%,#812417 51.4%,#822417 52.8%,#832518 54.2%,#842518 55.6%,#852618 56.9%,#852618 58.3%,#852618 59.7%,#852618 61.1%,#842518 62.5%,#842518 63.9%,#822517 65.3%,#812417 66.7%,#7e2316 68.1%,#7a2116 69.4%,#772015 70.8%,#731f14 72.2%,#6f1d13 73.6%,#6b1c12 75%,#671b11 76.4%,#5e180f 79.2%,#4f140c 83.3%,#4a120a 87.5%,#461109 91.7%,#431109 95.8%,#401008 100%)"></i>
</div>
<svg width="960" height="720" viewBox="0 0 960 720">
<defs><radialGradient id="vg" cx="0.5" cy="0.53" r="0.52" fx="0.5" fy="0.53"><stop offset="0" stop-color="#300800" stop-opacity="0"/><stop offset="0.93" stop-color="#300800" stop-opacity="0"/><stop offset="0.975" stop-color="#300800" stop-opacity="0.1"/><stop offset="1" stop-color="#200400" stop-opacity="0.3"/></radialGradient></defs>

<g stroke="#2a2a2a" stroke-width="1.4" fill="none">
<rect x="88.5" y="170.0" width="367.0" height="386.0"/>
<line x1="88.5" y1="376.3" x2="455.5" y2="376.3"/>
</g>
<path d="M88.5 170v4M88.5 372.3v8M88.5 556v-4M93.7 170v1.8M93.7 374.5v3.6M93.7 556v-1.8M99 170v1.8M99 374.5v3.6M99 556v-1.8M104.2 170v1.8M104.2 374.5v3.6M104.2 556v-1.8M109.5 170v1.8M109.5 374.5v3.6M109.5 556v-1.8M114.7 170v1.8M114.7 374.5v3.6M114.7 556v-1.8M120 170v1.8M120 374.5v3.6M120 556v-1.8M125.2 170v1.8M125.2 374.5v3.6M125.2 556v-1.8M130.4 170v1.8M130.4 374.5v3.6M130.4 556v-1.8M135.7 170v1.8M135.7 374.5v3.6M135.7 556v-1.8M140.9 170v4M140.9 372.3v8M140.9 556v-4M146.2 170v1.8M146.2 374.5v3.6M146.2 556v-1.8M151.4 170v1.8M151.4 374.5v3.6M151.4 556v-1.8M156.7 170v1.8M156.7 374.5v3.6M156.7 556v-1.8M161.9 170v1.8M161.9 374.5v3.6M161.9 556v-1.8M167.1 170v1.8M167.1 374.5v3.6M167.1 556v-1.8M172.4 170v1.8M172.4 374.5v3.6M172.4 556v-1.8M177.6 170v1.8M177.6 374.5v3.6M177.6 556v-1.8M182.9 170v1.8M182.9 374.5v3.6M182.9 556v-1.8M188.1 170v1.8M188.1 374.5v3.6M188.1 556v-1.8M193.4 170v4M193.4 372.3v8M193.4 556v-4M198.6 170v1.8M198.6 374.5v3.6M198.6 556v-1.8M203.8 170v1.8M203.8 374.5v3.6M203.8 556v-1.8M209.1 170v1.8M209.1 374.5v3.6M209.1 556v-1.8M214.3 170v1.8M214.3 374.5v3.6M214.3 556v-1.8M219.6 170v1.8M219.6 374.5v3.6M219.6 556v-1.8M224.8 170v1.8M224.8 374.5v3.6M224.8 556v-1.8M230.1 170v1.8M230.1 374.5v3.6M230.1 556v-1.8M235.3 170v1.8M235.3 374.5v3.6M235.3 556v-1.8M240.5 170v1.8M240.5 374.5v3.6M240.5 556v-1.8M245.8 170v4M245.8 372.3v8M245.8 556v-4M251 170v1.8M251 374.5v3.6M251 556v-1.8M256.3 170v1.8M256.3 374.5v3.6M256.3 556v-1.8M261.5 170v1.8M261.5 374.5v3.6M261.5 556v-1.8M266.8 170v1.8M266.8 374.5v3.6M266.8 556v-1.8M272 170v1.8M272 374.5v3.6M272 556v-1.8M277.2 170v1.8M277.2 374.5v3.6M277.2 556v-1.8M282.5 170v1.8M282.5 374.5v3.6M282.5 556v-1.8M287.7 170v1.8M287.7 374.5v3.6M287.7 556v-1.8M293 170v1.8M293 374.5v3.6M293 556v-1.8M298.2 170v4M298.2 372.3v8M298.2 556v-4M303.5 170v1.8M303.5 374.5v3.6M303.5 556v-1.8M308.7 170v1.8M308.7 374.5v3.6M308.7 556v-1.8M313.9 170v1.8M313.9 374.5v3.6M313.9 556v-1.8M319.2 170v1.8M319.2 374.5v3.6M319.2 556v-1.8M324.4 170v1.8M324.4 374.5v3.6M324.4 556v-1.8M329.7 170v1.8M329.7 374.5v3.6M329.7 556v-1.8M334.9 170v1.8M334.9 374.5v3.6M334.9 556v-1.8M340.2 170v1.8M340.2 374.5v3.6M340.2 556v-1.8M345.4 170v1.8M345.4 374.5v3.6M345.4 556v-1.8M350.6 170v4M350.6 372.3v8M350.6 556v-4M355.9 170v1.8M355.9 374.5v3.6M355.9 556v-1.8M361.1 170v1.8M361.1 374.5v3.6M361.1 556v-1.8M366.4 170v1.8M366.4 374.5v3.6M366.4 556v-1.8M371.6 170v1.8M371.6 374.5v3.6M371.6 556v-1.8M376.9 170v1.8M376.9 374.5v3.6M376.9 556v-1.8M382.1 170v1.8M382.1 374.5v3.6M382.1 556v-1.8M387.3 170v1.8M387.3 374.5v3.6M387.3 556v-1.8M392.6 170v1.8M392.6 374.5v3.6M392.6 556v-1.8M397.8 170v1.8M397.8 374.5v3.6M397.8 556v-1.8M403.1 170v4M403.1 372.3v8M403.1 556v-4M408.3 170v1.8M408.3 374.5v3.6M408.3 556v-1.8M413.6 170v1.8M413.6 374.5v3.6M413.6 556v-1.8M418.8 170v1.8M418.8 374.5v3.6M418.8 556v-1.8M424 170v1.8M424 374.5v3.6M424 556v-1.8M429.3 170v1.8M429.3 374.5v3.6M429.3 556v-1.8M434.5 170v1.8M434.5 374.5v3.6M434.5 556v-1.8M439.8 170v1.8M439.8 374.5v3.6M439.8 556v-1.8M445 170v1.8M445 374.5v3.6M445 556v-1.8M450.3 170v1.8M450.3 374.5v3.6M450.3 556v-1.8M455.5 170v4M455.5 372.3v8M455.5 556v-4M88.5 376.3h7M455.5 376.3h-7M88.5 371.1h3.3M455.5 371.1h-3.3M88.5 366h3.3M455.5 366h-3.3M88.5 360.8h3.3M455.5 360.8h-3.3M88.5 355.7h3.3M455.5 355.7h-3.3M88.5 350.5h3.3M455.5 350.5h-3.3M88.5 345.4h3.3M455.5 345.4h-3.3M88.5 340.2h3.3M455.5 340.2h-3.3M88.5 335h3.3M455.5 335h-3.3M88.5 329.9h3.3M455.5 329.9h-3.3M88.5 324.7h7M455.5 324.7h-7M88.5 319.6h3.3M455.5 319.6h-3.3M88.5 314.4h3.3M455.5 314.4h-3.3M88.5 309.3h3.3M455.5 309.3h-3.3M88.5 304.1h3.3M455.5 304.1h-3.3M88.5 298.9h3.3M455.5 298.9h-3.3M88.5 293.8h3.3M455.5 293.8h-3.3M88.5 288.6h3.3M455.5 288.6h-3.3M88.5 283.5h3.3M455.5 283.5h-3.3M88.5 278.3h3.3M455.5 278.3h-3.3M88.5 273.2h7M455.5 273.2h-7M88.5 268h3.3M455.5 268h-3.3M88.5 262.8h3.3M455.5 262.8h-3.3M88.5 257.7h3.3M455.5 257.7h-3.3M88.5 252.5h3.3M455.5 252.5h-3.3M88.5 247.4h3.3M455.5 247.4h-3.3M88.5 242.2h3.3M455.5 242.2h-3.3M88.5 237h3.3M455.5 237h-3.3M88.5 231.9h3.3M455.5 231.9h-3.3M88.5 226.7h3.3M455.5 226.7h-3.3M88.5 221.6h7M455.5 221.6h-7M88.5 216.4h3.3M455.5 216.4h-3.3M88.5 211.3h3.3M455.5 211.3h-3.3M88.5 206.1h3.3M455.5 206.1h-3.3M88.5 200.9h3.3M455.5 200.9h-3.3M88.5 195.8h3.3M455.5 195.8h-3.3M88.5 190.6h3.3M455.5 190.6h-3.3M88.5 185.5h3.3M455.5 185.5h-3.3M88.5 180.3h3.3M455.5 180.3h-3.3M88.5 175.2h3.3M455.5 175.2h-3.3M88.5 170h7M455.5 170h-7M88.5 556h7M455.5 556h-7M88.5 552.4h3.3M455.5 552.4h-3.3M88.5 548.8h3.3M455.5 548.8h-3.3M88.5 545.2h3.3M455.5 545.2h-3.3M88.5 541.6h3.3M455.5 541.6h-3.3M88.5 538h3.3M455.5 538h-3.3M88.5 534.4h3.3M455.5 534.4h-3.3M88.5 530.8h3.3M455.5 530.8h-3.3M88.5 527.2h3.3M455.5 527.2h-3.3M88.5 523.7h3.3M455.5 523.7h-3.3M88.5 520.1h7M455.5 520.1h-7M88.5 516.5h3.3M455.5 516.5h-3.3M88.5 512.9h3.3M455.5 512.9h-3.3M88.5 509.3h3.3M455.5 509.3h-3.3M88.5 505.7h3.3M455.5 505.7h-3.3M88.5 502.1h3.3M455.5 502.1h-3.3M88.5 498.5h3.3M455.5 498.5h-3.3M88.5 494.9h3.3M455.5 494.9h-3.3M88.5 491.3h3.3M455.5 491.3h-3.3M88.5 487.7h3.3M455.5 487.7h-3.3M88.5 484.1h7M455.5 484.1h-7M88.5 480.5h3.3M455.5 480.5h-3.3M88.5 476.9h3.3M455.5 476.9h-3.3M88.5 473.3h3.3M455.5 473.3h-3.3M88.5 469.7h3.3M455.5 469.7h-3.3M88.5 466.1h3.3M455.5 466.1h-3.3M88.5 462.6h3.3M455.5 462.6h-3.3M88.5 459h3.3M455.5 459h-3.3M88.5 455.4h3.3M455.5 455.4h-3.3M88.5 451.8h3.3M455.5 451.8h-3.3M88.5 448.2h7M455.5 448.2h-7M88.5 444.6h3.3M455.5 444.6h-3.3M88.5 441h3.3M455.5 441h-3.3M88.5 437.4h3.3M455.5 437.4h-3.3M88.5 433.8h3.3M455.5 433.8h-3.3M88.5 430.2h3.3M455.5 430.2h-3.3M88.5 426.6h3.3M455.5 426.6h-3.3M88.5 423h3.3M455.5 423h-3.3M88.5 419.4h3.3M455.5 419.4h-3.3M88.5 415.8h3.3M455.5 415.8h-3.3M88.5 412.2h7M455.5 412.2h-7M88.5 408.6h3.3M455.5 408.6h-3.3M88.5 405.1h3.3M455.5 405.1h-3.3M88.5 401.5h3.3M455.5 401.5h-3.3M88.5 397.9h3.3M455.5 397.9h-3.3M88.5 394.3h3.3M455.5 394.3h-3.3M88.5 390.7h3.3M455.5 390.7h-3.3M88.5 387.1h3.3M455.5 387.1h-3.3M88.5 383.5h3.3M455.5 383.5h-3.3M88.5 379.9h3.3M455.5 379.9h-3.3M88.5 376.3h7M455.5 376.3h-7" stroke="#2a2a2a" stroke-width="1.1" fill="none"/>
<g font-size="13.1" text-anchor="end">
<text x="84" y="173.2">1.01</text>
<text x="84" y="225.8">1.00</text>
<text x="84" y="277.4">0.99</text>
<text x="84" y="328.9">0.98</text>
<text x="84" y="379.7">0.97</text>
<text x="84" y="416.6">1.003</text>
<text x="84" y="452.6">1.002</text>
<text x="84" y="488.5">1.001</text>
<text x="84" y="524.5">1.000</text>
<text x="84" y="560.2">0.999</text>
</g>
<g font-size="13.1" text-anchor="middle">
<text x="87.9" y="570.2">−0.1</text>
<text x="140.3" y="570.2">0.0</text>
<text x="192.8" y="570.2">0.1</text>
<text x="245.2" y="570.2">0.2</text>
<text x="297.6" y="570.2">0.3</text>
<text x="350" y="570.2">0.4</text>
<text x="402.5" y="570.2">0.5</text>
<text x="454.9" y="570.2">0.6</text>
</g>
<text x="271.1" y="585.8" font-size="13.6" text-anchor="middle">Orbital phase</text>
<text transform="translate(48.6,272.3) rotate(-90)" font-size="13.5" text-anchor="middle">Relative flux</text>
<text transform="translate(44.1,465.3) rotate(-90)" font-size="13.5" text-anchor="middle">Relative flux</text>
<text x="32.3" y="173.2" font-size="15.4" font-weight="bold" style="fill:#000;stroke:#000;stroke-width:.3">a</text>
<text x="32.3" y="379.6" font-size="15.4" font-weight="bold" style="fill:#000;stroke:#000;stroke-width:.3">b</text>
<polyline points="88.5 426.73 91.1 426.97 93.7 427.22 96.4 427.51 99 427.81 101.6 428.14 104.2 428.49 106.9 428.87 109.5 429.27 112.1 429.67 114.7 430.07 117.3 430.46 120 430.85 122.6 431.23 125.2 431.61 127.8 431.97 130.4 432.33 133.1 432.67 135.7 433.01 138.3 433.34 140.9 433.66 143.6 433.99 146.2 434.30 148.8 434.61 151.4 434.91 154 435.19 156.7 435.46 159.3 435.71 161.9 435.95 164.5 436.18 167.1 436.40 169.8 436.61 172.4 436.81 175 437.00 177.6 437.15 180.2 437.27 182.9 437.36 185.5 437.42 188.1 437.44 190.7 437.44 193.4 437.42 196 437.37 198.6 437.30 201.2 437.20 203.8 437.06 206.5 436.86 209.1 436.62 211.7 436.34 214.3 436.00 217 435.65 219.6 435.26 222.2 434.85 224.8 434.42 227.4 433.97 230.1 433.47 232.7 432.93 235.3 432.34 237.9 431.72 240.5 431.05 243.2 430.36 245.8 429.65 248.4 428.92 251 428.18 253.7 427.41 256.3 426.62 258.9 425.81 261.5 424.97 264.1 424.11 266.8 423.23 269.4 422.34 272 421.45 274.6 420.54 277.2 419.64 279.9 418.73 282.5 417.83 285.1 416.93 287.7 416.04 290.4 415.15 293 414.26 295.6 413.39 298.2 412.52 300.8 411.66 303.5 410.81 306.1 409.98 308.7 409.16 311.3 408.38 313.9 407.61 316.6 406.87 319.2 406.15 321.8 405.44 324.4 404.75 327.1 404.08 329.7 403.42 332.3 402.77 334.9 402.17 337.5 401.60 340.2 401.07 342.8 400.58 345.4 400.12 348 399.69 350.6 399.28 353.3 398.90 355.9 398.54 358.5 398.21 361.1 397.91 363.8 397.66 366.4 397.45 369 397.29 371.6 397.17 374.2 397.07 376.9 396.98 379.5 396.92 382.1 396.88 384.7 396.86 387.3 396.87 390 396.91 392.6 396.98 395.2 397.09 397.8 397.23 400.4 397.39 403.1 397.56 405.7 397.75 408.3 397.95 410.9 398.17 413.6 398.41 416.2 398.67 418.8 398.96 421.4 399.27 424 399.60 426.7 399.95 429.3 400.30 431.9 400.66 434.5 401.04 437.2 401.41 439.8 401.77 442.4 402.11 445 402.42 447.6 402.72 450.3 403.01 452.9 403.26 455.5 403.50" fill="none" stroke="#1c1c1c" stroke-width="1.5"/>
<line x1="88.5" y1="520.1" x2="455.5" y2="520.1" stroke="#222" stroke-width="1.4" stroke-dasharray="10.7 11.2" stroke-dashoffset="0.5"/>
<path d="M123.9 209.1h0M124.5 208.3h0M125 209.1h0M125.6 209.2h0M126.2 209.9h0M126.7 209.1h0M127.3 207.7h0M127.9 208.5h0M128.4 207.8h0M129 208.7h0M129.6 208.5h0M130.1 208.8h0M130.7 210.8h0M131.3 208.1h0M131.8 208.5h0M132.4 214.5h0M132.9 236.5h0M133.5 263.9h0M134.1 292.0h0M134.6 316.1h0M135.2 329.2h0M135.8 331.0h0M136.3 330.6h0M136.9 332.0h0M137.5 331.1h0M138 331.1h0M138.6 332.4h0M139.2 329.9h0M139.7 331.2h0M140.3 330.6h0M140.9 332.6h0M141.4 332.7h0M142 332.3h0M142.6 332.0h0M143.1 331.1h0M143.7 331.4h0M144.3 332.1h0M144.8 332.5h0M145.4 331.9h0M146 329.9h0M146.5 331.5h0M147.1 319.1h0M147.7 295.9h0M148.2 269.3h0M148.8 239.5h0M149.4 216.7h0M149.9 211.5h0M150.5 207.9h0M151.1 207.7h0M151.6 208.6h0M152.2 207.2h0M152.8 207.9h0M153.3 209.5h0M153.9 207.1h0M154.5 207.3h0M155 207.0h0M155.6 206.6h0M156.2 207.8h0M156.7 208.1h0M157.3 209.7h0M157.9 207.7h0M158.4 209.0h0M159 208.9h0M159.6 209.8h0M160.1 209.6h0M160.7 209.1h0M161.3 207.2h0M161.8 210.8h0M162.4 210.2h0M163 208.4h0M163.5 207.2h0M164.1 208.2h0M164.7 210.9h0M165.2 211.6h0M165.8 208.5h0M166.4 209.7h0M166.9 210.1h0M167.5 207.9h0M168.1 207.8h0M168.6 208.9h0M169.2 208.8h0M169.8 208.6h0M170.3 207.4h0M170.9 208.5h0M171.5 208.6h0M172 208.6h0M172.6 210.9h0M173.2 207.8h0M173.7 208.2h0M174.3 208.7h0M174.8 211.4h0M175.4 210.0h0M176 208.4h0M176.5 211.3h0M177.1 209.5h0M177.7 208.3h0M178.2 210.8h0M178.8 207.6h0M179.4 208.8h0M179.9 209.6h0M180.5 209.1h0M181.1 208.7h0M181.6 209.3h0M182.2 208.2h0M182.8 210.2h0M183.3 209.9h0M183.9 208.4h0M184.5 209.5h0M185 210.5h0M185.6 208.5h0M186.2 207.9h0M186.7 210.0h0M187.3 211.0h0M187.9 209.7h0M188.4 209.7h0M189 209.9h0M189.6 208.0h0M190.1 210.7h0M190.7 208.2h0M191.3 211.0h0M191.8 210.4h0M192.4 208.9h0M193 208.4h0M193.5 208.7h0M194.1 209.2h0M194.7 209.5h0M195.2 209.4h0M195.8 209.0h0M196.4 209.8h0M196.9 209.3h0M197.5 209.0h0M198.1 209.6h0M198.6 208.8h0M199.2 209.0h0M199.8 207.4h0M200.3 209.3h0M200.9 210.1h0M201.5 210.0h0M202 209.6h0M202.6 208.6h0M203.2 210.0h0M203.7 209.2h0M204.3 207.6h0M204.9 212.4h0M205.4 210.8h0M206 209.3h0M206.6 209.2h0M207.1 209.3h0M207.7 210.0h0M208.3 208.9h0M208.8 209.3h0M209.4 210.1h0M210 206.9h0M210.5 209.2h0M211.1 210.1h0M211.7 209.6h0M212.2 209.8h0M212.8 209.6h0M213.4 212.5h0M213.9 210.0h0M214.5 208.4h0M215.1 210.7h0M215.6 209.5h0M216.2 208.4h0M216.8 208.5h0M217.3 207.8h0M217.9 211.3h0M218.4 209.8h0M219 209.8h0M219.6 208.7h0M220.1 208.2h0M220.7 212.3h0M221.3 208.2h0M221.8 210.9h0M222.4 208.6h0M223 210.9h0M223.5 209.1h0M224.1 208.0h0M224.7 209.4h0M225.2 209.1h0M225.8 208.4h0M226.4 209.1h0M226.9 209.3h0M227.5 207.5h0M228.1 208.1h0M228.6 209.5h0M229.2 206.2h0M229.8 210.4h0M230.3 208.1h0M230.9 209.4h0M231.5 209.0h0M232 208.3h0M232.6 208.8h0M233.2 208.4h0M233.7 210.7h0M234.3 210.6h0M234.9 208.3h0M235.4 210.0h0M236 210.1h0M236.6 210.5h0M237.1 207.5h0M237.7 208.1h0M238.3 207.3h0M238.8 209.9h0M239.4 208.8h0M240 210.1h0M240.5 208.0h0M241.1 207.1h0M241.7 209.7h0M242.2 207.0h0M242.8 207.6h0M243.4 208.9h0M243.9 210.8h0M244.5 207.1h0M245.1 208.7h0M245.6 209.3h0M246.2 208.1h0M246.8 208.1h0M247.3 206.9h0M247.9 209.6h0M248.5 207.3h0M249 206.9h0M249.6 206.9h0M250.2 208.6h0M250.7 209.2h0M251.3 207.3h0M251.9 208.2h0M252.4 208.2h0M253 206.8h0M253.6 208.6h0M254.1 210.7h0M254.7 208.7h0M255.3 210.2h0M255.8 207.3h0M256.4 207.8h0M257 208.8h0M257.5 208.1h0M258.1 207.2h0M258.7 208.0h0M259.2 206.6h0M259.8 208.1h0M260.4 206.9h0M260.9 206.3h0M261.5 206.2h0M262 208.6h0M262.6 206.9h0M263.2 209.9h0M263.7 209.0h0M264.3 209.9h0M264.9 206.6h0M265.4 209.1h0M266 207.7h0M266.6 207.9h0M267.1 207.7h0M267.7 208.3h0M268.3 207.4h0M268.8 205.6h0M269.4 207.5h0M270 206.9h0M270.5 206.4h0M271.1 207.7h0M271.7 208.8h0M272.2 208.0h0M272.8 206.2h0M273.4 209.1h0M273.9 208.0h0M274.5 206.2h0M275.1 206.4h0M275.6 207.2h0M276.2 206.3h0M276.8 207.0h0M277.3 208.4h0M277.9 208.8h0M278.5 207.8h0M279 206.1h0M279.6 207.7h0M280.2 208.0h0M280.7 207.8h0M281.3 208.6h0M281.9 207.1h0M282.4 208.2h0M283 206.5h0M283.6 209.4h0M284.1 206.5h0M284.7 207.5h0M285.3 208.9h0M285.8 206.0h0M286.4 207.0h0M287 209.1h0M287.5 207.6h0M288.1 206.3h0M288.7 207.1h0M289.2 205.7h0M289.8 205.7h0M290.4 205.8h0M290.9 206.1h0M291.5 205.0h0M292.1 205.7h0M292.6 205.9h0M293.2 208.6h0M293.8 205.4h0M294.3 204.9h0M294.9 206.6h0M295.5 206.8h0M296 204.1h0M296.6 208.1h0M297.2 205.7h0M297.7 203.5h0M298.3 207.1h0M298.9 205.4h0M299.4 204.0h0M300 206.2h0M300.6 205.4h0M301.1 205.0h0M301.7 207.0h0M302.3 206.1h0M302.8 205.6h0M303.4 205.0h0M303.9 205.9h0M304.5 206.1h0M305.1 206.9h0M305.6 206.2h0M306.2 204.8h0M306.8 205.6h0M307.3 206.6h0M307.9 206.6h0M308.5 202.8h0M309 204.4h0M309.6 204.9h0M310.2 208.4h0M310.7 204.9h0M311.3 205.0h0M311.9 203.7h0M312.4 205.0h0M313 205.5h0M313.6 204.9h0M314.1 207.5h0M314.7 204.3h0M315.3 205.0h0M315.8 206.1h0M316.4 203.9h0M317 203.4h0M317.5 206.8h0M318.1 206.0h0M318.7 204.9h0M319.2 205.0h0M319.8 205.6h0M320.4 206.2h0M320.9 202.9h0M321.5 204.0h0M322.1 206.4h0M322.6 206.6h0M323.2 203.2h0M323.8 204.0h0M324.3 203.1h0M324.9 204.1h0M325.5 205.9h0M326 204.7h0M326.6 207.3h0M327.2 205.7h0M327.7 205.0h0M328.3 204.3h0M328.9 205.7h0M329.4 205.0h0M330 204.3h0M330.6 204.4h0M331.1 204.1h0M331.7 204.5h0M332.3 205.1h0M332.8 203.9h0M333.4 204.7h0M334 205.6h0M334.5 205.3h0M335.1 204.7h0M335.7 204.8h0M336.2 204.4h0M336.8 204.6h0M337.4 204.4h0M337.9 204.7h0M338.5 205.9h0M339.1 204.1h0M339.6 203.4h0M340.2 204.0h0M340.8 204.7h0M341.3 204.0h0M341.9 205.5h0M342.5 206.5h0M343 204.4h0M343.6 205.4h0M344.2 203.6h0M344.7 205.6h0M345.3 207.2h0M345.9 205.5h0M346.4 202.6h0M347 204.7h0M347.5 205.8h0M348.1 205.1h0M348.7 203.7h0M349.2 203.7h0M349.8 204.1h0M350.4 202.6h0M350.9 203.5h0M351.5 204.2h0M352.1 203.6h0M352.6 202.4h0M353.2 203.1h0M353.8 203.1h0M354.3 205.3h0M354.9 204.3h0M355.5 203.4h0M356 204.5h0M356.6 203.0h0M357.2 203.5h0M357.7 203.1h0M358.3 204.3h0M358.9 201.3h0M359.4 202.7h0M360 204.3h0M360.6 204.0h0M361.1 201.2h0M361.7 204.4h0M362.3 203.1h0M362.8 203.0h0M363.4 204.0h0M364 205.3h0M364.5 203.8h0M365.1 203.6h0M365.7 202.8h0M366.2 203.1h0M366.8 204.0h0M367.4 203.0h0M367.9 203.4h0M368.5 203.7h0M369.1 203.9h0M369.6 204.2h0M370.2 203.2h0M370.8 205.1h0M371.3 204.6h0M371.9 203.9h0M372.5 205.5h0M373 204.4h0M373.6 206.1h0M374.2 204.7h0M374.7 203.3h0M375.3 203.3h0M375.9 204.0h0M376.4 204.2h0M377 205.4h0M377.6 201.9h0M378.1 203.4h0M378.7 202.7h0M379.3 204.9h0M379.8 204.1h0M380.4 205.9h0M381 203.1h0M381.5 202.9h0M382.1 206.0h0M382.7 204.0h0M383.2 203.2h0M383.8 205.8h0M384.4 205.9h0M384.9 205.0h0M385.5 204.6h0M386.1 205.4h0M386.6 203.9h0M387.2 203.6h0M387.8 203.2h0M388.3 203.1h0M388.9 202.3h0M389.5 202.6h0M390 205.3h0M390.6 204.5h0M391.1 205.1h0M391.7 205.1h0M392.3 204.0h0M392.8 203.9h0M393.4 203.4h0M394 205.6h0M394.5 205.3h0M395.1 204.3h0M395.7 206.7h0M396.2 210.4h0M396.8 214.3h0M397.4 218.9h0M397.9 220.0h0M398.5 221.0h0M399.1 221.5h0M399.6 222.1h0M400.2 221.6h0M400.8 224.4h0M401.3 222.5h0M401.9 221.4h0M402.5 223.1h0M403 221.2h0M403.6 221.3h0M404.2 222.9h0M404.7 221.7h0M405.3 221.8h0M405.9 221.0h0M406.4 220.8h0M407 221.5h0M407.6 222.4h0M408.1 221.6h0M408.7 221.6h0M409.3 220.7h0M409.8 220.3h0M410.4 218.6h0M411 215.4h0M411.5 210.2h0M412.1 207.1h0M412.7 205.5h0M413.2 204.9h0M413.8 205.5h0M414.4 204.7h0M414.9 204.1h0M415.5 205.4h0M416.1 201.6h0M416.6 205.3h0M417.2 203.3h0M417.8 204.7h0M418.3 203.3h0M418.9 208.2h0M419.5 205.9h0M420 204.5h0M420.6 204.1h0M421.2 201.7h0M421.7 204.5h0M422.3 203.1h0M422.9 203.9h0M423.4 203.6h0M424 204.2h0M424.6 205.2h0M425.1 204.3h0M425.7 206.5h0M426.3 203.4h0M426.8 206.4h0M427.4 204.7h0M428 202.1h0M428.5 205.4h0M429.1 205.0h0M429.7 203.4h0M430.2 205.0h0M430.8 206.2h0M431.4 204.7h0M431.9 204.3h0M432.5 204.1h0M433.1 206.2h0" stroke="#111" stroke-width="2.1" stroke-linecap="round" fill="none"/>
<path d="M123.9 433.4h0M124.5 427.6h0M125 433.3h0M125.6 434.0h0M126.2 438.8h0M126.7 433.4h0M127.3 423.5h0M127.9 428.8h0M128.4 424.2h0M129 430.3h0M129.6 429.2h0M130.1 430.9h0M130.7 444.9h0M131.3 426.0h0M131.8 428.7h0M132.4 470.6h0M149.4 485.9h0M149.9 450.0h0M150.5 424.8h0M151.1 423.6h0M151.6 429.5h0M152.2 420.0h0M152.8 424.7h0M153.3 435.8h0M153.9 418.9h0M154.5 420.5h0M155 418.8h0M155.6 415.5h0M156.2 424.0h0M156.7 426.2h0M157.3 437.2h0M157.9 423.1h0M158.4 432.7h0M159 431.8h0M159.6 438.3h0M160.1 436.3h0M160.7 433.3h0M161.3 419.9h0M161.8 445.2h0M162.4 441.1h0M163 428.6h0M163.5 419.8h0M164.1 426.5h0M164.7 445.5h0M165.2 450.4h0M165.8 428.9h0M166.4 437.3h0M166.9 440.4h0M167.5 424.8h0M168.1 424.1h0M168.6 431.4h0M169.2 430.9h0M169.8 429.7h0M170.3 421.1h0M170.9 428.6h0M171.5 429.5h0M172 429.5h0M172.6 445.6h0M173.2 424.2h0M173.7 426.9h0M174.3 430.2h0M174.8 449.2h0M175.4 439.2h0M176 428.2h0M176.5 448.4h0M177.1 436.2h0M177.7 427.2h0M178.2 444.9h0M178.8 423.0h0M179.4 431.1h0M179.9 436.5h0M180.5 433.0h0M181.1 430.6h0M181.6 434.7h0M182.2 427.0h0M182.8 440.8h0M183.3 439.0h0M183.9 428.0h0M184.5 435.8h0M185 442.7h0M185.6 428.9h0M186.2 425.1h0M186.7 439.5h0M187.3 446.7h0M187.9 437.3h0M188.4 437.4h0M189 438.6h0M189.6 425.8h0M190.1 444.2h0M190.7 427.0h0M191.3 446.1h0M191.8 442.5h0M192.4 431.8h0M193 428.1h0M193.5 430.1h0M194.1 434.0h0M194.7 435.6h0M195.2 435.5h0M195.8 432.3h0M196.4 438.0h0M196.9 434.6h0M197.5 432.4h0M198.1 436.7h0M198.6 430.9h0M199.2 432.4h0M199.8 421.5h0M200.3 434.3h0M200.9 439.9h0M201.5 439.5h0M202 436.8h0M202.6 429.7h0M203.2 439.2h0M203.7 433.7h0M204.3 422.7h0M204.9 455.9h0M205.4 445.0h0M206 434.7h0M206.6 433.5h0M207.1 434.7h0M207.7 439.7h0M208.3 431.4h0M208.8 434.2h0M209.4 440.2h0M210 417.9h0M210.5 433.5h0M211.1 440.3h0M211.7 436.8h0M212.2 437.7h0M212.8 436.4h0M213.4 456.5h0M213.9 439.5h0M214.5 428.2h0M215.1 444.5h0M215.6 436.1h0M216.2 428.4h0M216.8 429.0h0M217.3 424.2h0M217.9 448.2h0M218.4 437.9h0M219 437.8h0M219.6 430.4h0M220.1 426.8h0M220.7 455.2h0M221.3 426.6h0M221.8 445.7h0M222.4 429.5h0M223 445.9h0M223.5 433.2h0M224.1 425.4h0M224.7 435.5h0M225.2 432.8h0M225.8 428.1h0M226.4 433.0h0M226.9 434.6h0M227.5 422.3h0M228.1 425.8h0M228.6 435.9h0M229.2 412.8h0M229.8 442.1h0M230.3 426.4h0M230.9 435.2h0M231.5 432.1h0M232 427.7h0M232.6 431.2h0M233.2 427.9h0M233.7 444.2h0M234.3 443.9h0M234.9 427.7h0M235.4 439.5h0M236 439.9h0M236.6 443.1h0M237.1 422.3h0M237.7 426.1h0M238.3 420.5h0M238.8 438.5h0M239.4 431.3h0M240 439.8h0M240.5 425.2h0M241.1 418.9h0M241.7 437.4h0M242.2 418.8h0M242.8 423.0h0M243.4 431.6h0M243.9 445.0h0M244.5 419.4h0M245.1 430.5h0M245.6 434.2h0M246.2 426.5h0M246.8 426.3h0M247.3 417.9h0M247.9 436.7h0M248.5 420.3h0M249 417.5h0M249.6 417.6h0M250.2 429.8h0M250.7 433.9h0M251.3 420.4h0M251.9 427.0h0M252.4 426.8h0M253 416.8h0M253.6 429.4h0M254.1 444.6h0M254.7 430.0h0M255.3 440.9h0M255.8 420.6h0M256.4 424.2h0M257 431.0h0M257.5 426.3h0M258.1 419.8h0M258.7 425.3h0M259.2 415.7h0M259.8 426.0h0M260.4 417.5h0M260.9 413.9h0M261.5 412.8h0M262 429.9h0M262.6 418.0h0M263.2 438.6h0M263.7 432.4h0M264.3 438.9h0M264.9 415.8h0M265.4 433.0h0M266 423.6h0M266.6 424.7h0M267.1 423.3h0M267.7 427.4h0M268.3 420.9h0M268.8 409.0h0M269.4 422.0h0M270 418.1h0M270.5 414.4h0M271.1 423.2h0M271.7 431.1h0M272.2 425.5h0M272.8 413.1h0M273.4 433.4h0M273.9 425.3h0M274.5 413.0h0M275.1 414.4h0M275.6 420.1h0M276.2 413.9h0M276.8 418.5h0M277.3 428.5h0M277.9 431.2h0M278.5 424.0h0M279 412.0h0M279.6 423.1h0M280.2 425.4h0M280.7 424.2h0M281.3 429.8h0M281.9 418.9h0M282.4 426.7h0M283 414.9h0M283.6 435.3h0M284.1 414.8h0M284.7 421.9h0M285.3 431.5h0M285.8 411.2h0M286.4 418.6h0M287 433.1h0M287.5 422.7h0M288.1 413.7h0M288.7 419.2h0M289.2 409.6h0M289.8 409.7h0M290.4 410.1h0M290.9 412.5h0M291.5 404.7h0M292.1 409.6h0M292.6 411.0h0M293.2 429.9h0M293.8 407.2h0M294.3 403.9h0M294.9 415.9h0M295.5 417.0h0M296 398.6h0M296.6 426.3h0M297.2 409.3h0M297.7 394.4h0M298.3 419.5h0M298.9 407.1h0M299.4 397.9h0M300 412.8h0M300.6 407.5h0M301.1 404.8h0M301.7 418.2h0M302.3 411.9h0M302.8 408.8h0M303.4 404.6h0M303.9 410.9h0M304.5 411.9h0M305.1 418.0h0M305.6 412.8h0M306.2 403.2h0M306.8 409.0h0M307.3 416.0h0M307.9 415.8h0M308.5 389.1h0M309 400.5h0M309.6 404.1h0M310.2 428.3h0M310.7 403.9h0M311.3 404.7h0M311.9 395.5h0M312.4 404.8h0M313 408.4h0M313.6 403.8h0M314.1 422.2h0M314.7 399.6h0M315.3 404.8h0M315.8 412.4h0M316.4 396.9h0M317 393.1h0M317.5 417.2h0M318.1 411.5h0M318.7 404.1h0M319.2 404.7h0M319.8 409.0h0M320.4 413.2h0M320.9 389.7h0M321.5 397.7h0M322.1 414.4h0M322.6 415.4h0M323.2 392.2h0M323.8 397.5h0M324.3 391.0h0M324.9 398.5h0M325.5 411.1h0M326 402.4h0M326.6 420.5h0M327.2 409.7h0M327.7 404.3h0M328.3 399.8h0M328.9 409.1h0M329.4 404.4h0M330 399.9h0M330.6 400.3h0M331.1 398.2h0M331.7 401.3h0M332.3 405.2h0M332.8 396.7h0M333.4 402.1h0M334 408.6h0M334.5 407.0h0M335.1 402.1h0M335.7 402.8h0M336.2 400.7h0M336.8 401.8h0M337.4 400.3h0M337.9 402.5h0M338.5 410.9h0M339.1 398.1h0M339.6 393.2h0M340.2 397.8h0M340.8 402.4h0M341.3 397.5h0M341.9 408.0h0M342.5 414.9h0M343 400.1h0M343.6 407.5h0M344.2 394.7h0M344.7 408.4h0M345.3 420.0h0M345.9 407.9h0M346.4 388.0h0M347 402.7h0M347.5 410.1h0M348.1 405.4h0M348.7 395.7h0M349.2 395.7h0M349.8 398.1h0M350.4 388.1h0M350.9 393.9h0M351.5 399.3h0M352.1 394.6h0M352.6 386.5h0M353.2 391.6h0M353.8 391.1h0M354.3 406.9h0M354.9 399.8h0M355.5 393.1h0M356 400.8h0M356.6 390.4h0M357.2 393.9h0M357.7 391.4h0M358.3 399.8h0M358.9 378.9h0M359.4 388.7h0M360 399.7h0M360.6 397.3h0M361.1 378.3h0M361.7 400.4h0M362.3 391.2h0M362.8 390.3h0M363.4 397.6h0M364 406.5h0M364.5 396.2h0M365.1 394.8h0M365.7 389.0h0M366.2 391.6h0M366.8 397.2h0M367.4 390.9h0M367.9 393.3h0M368.5 395.8h0M369.1 396.9h0M369.6 399.1h0M370.2 392.0h0M370.8 405.2h0M371.3 401.9h0M371.9 397.1h0M372.5 408.2h0M373 400.4h0M373.6 412.2h0M374.2 402.2h0M374.7 392.8h0M375.3 392.8h0M375.9 397.4h0M376.4 398.7h0M377 407.7h0M377.6 383.2h0M378.1 393.1h0M378.7 388.7h0M379.3 403.6h0M379.8 398.3h0M380.4 410.6h0M381 391.0h0M381.5 389.8h0M382.1 411.2h0M382.7 397.3h0M383.2 392.1h0M383.8 410.2h0M384.4 410.6h0M384.9 404.9h0M385.5 401.6h0M386.1 407.4h0M386.6 396.6h0M387.2 395.0h0M387.8 392.1h0M388.3 391.6h0M388.9 385.5h0M389.5 388.1h0M390 406.8h0M390.6 400.7h0M391.1 404.9h0M391.7 405.1h0M392.3 397.6h0M392.8 397.0h0M393.4 393.3h0M394 409.0h0M394.5 406.4h0M395.1 399.3h0M395.7 416.1h0M396.2 442.3h0M396.8 469.5h0M397.4 501.5h0M397.9 508.9h0M398.5 516.1h0M399.1 519.4h0M399.6 523.9h0M400.2 520.2h0M400.8 539.4h0M401.3 526.3h0M401.9 518.7h0M402.5 530.4h0M403 517.5h0M403.6 518.0h0M404.2 529.5h0M404.7 521.1h0M405.3 521.6h0M405.9 515.8h0M406.4 514.7h0M407 519.6h0M407.6 525.8h0M408.1 520.5h0M408.7 520.0h0M409.3 514.0h0M409.8 511.3h0M410.4 499.5h0M411 477.0h0M411.5 440.7h0M412.1 419.0h0M412.7 408.0h0M413.2 404.2h0M413.8 407.9h0M414.4 402.1h0M414.9 398.1h0M415.5 407.3h0M416.1 380.8h0M416.6 406.5h0M417.2 392.8h0M417.8 402.3h0M418.3 392.7h0M418.9 426.7h0M419.5 411.0h0M420 401.4h0M420.6 398.0h0M421.2 381.2h0M421.7 400.8h0M422.3 391.6h0M422.9 396.7h0M423.4 395.0h0M424 399.3h0M424.6 405.9h0M425.1 399.5h0M425.7 414.9h0M426.3 393.1h0M426.8 414.5h0M427.4 402.3h0M428 384.2h0M428.5 407.0h0M429.1 404.8h0M429.7 393.7h0M430.2 404.8h0M430.8 413.0h0M431.4 402.8h0M431.9 399.7h0M432.5 398.5h0M433.1 413.0h0" stroke="#111" stroke-width="2.3" stroke-linecap="round" fill="none"/>
<ellipse cx="750.0" cy="301.0" rx="191.2" ry="100.0" fill="url(#vg)"/>
<g fill="none" stroke="#1e0c06" stroke-opacity="0.82" stroke-width="1.45">
<ellipse cx="750.0" cy="301.0" rx="31.9" ry="100.0"/>
<ellipse cx="750.0" cy="301.0" rx="63.7" ry="100.0"/>
<ellipse cx="750.0" cy="301.0" rx="95.6" ry="100.0"/>
<ellipse cx="750.0" cy="301.0" rx="127.5" ry="100.0"/>
<ellipse cx="750.0" cy="301.0" rx="159.3" ry="100.0"/>
<line x1="750.0" y1="201.0" x2="750.0" y2="401.0"/>
<line x1="626.3" y1="377.2" x2="873.7" y2="377.2"/>
<line x1="575.1" y1="341.4" x2="924.9" y2="341.4"/>
<line x1="558.8" y1="301.0" x2="941.2" y2="301.0"/>
<line x1="575.1" y1="260.6" x2="924.9" y2="260.6"/>
<line x1="626.3" y1="224.8" x2="873.7" y2="224.8"/>
</g>
<ellipse cx="750.0" cy="301.0" rx="191.2" ry="100.0" fill="none" stroke="#2a0c08" stroke-width="1.8"/>
<rect x="557.3" y="413.3" width="385.9000000000001" height="172.7" fill="none" stroke="#2a2a2a" stroke-width="1.3"/>
<path d="M567.2 413.3v1.7M567.2 586v-1.7M576.8 413.3v3.6M576.8 586v-3.6M586.5 413.3v1.7M586.5 586v-1.7M596.1 413.3v1.7M596.1 586v-1.7M605.8 413.3v1.7M605.8 586v-1.7M615.4 413.3v1.7M615.4 586v-1.7M625 413.3v1.7M625 586v-1.7M634.7 413.3v1.7M634.7 586v-1.7M644.3 413.3v1.7M644.3 586v-1.7M654 413.3v1.7M654 586v-1.7M663.6 413.3v3.6M663.6 586v-3.6M673.3 413.3v1.7M673.3 586v-1.7M682.9 413.3v1.7M682.9 586v-1.7M692.5 413.3v1.7M692.5 586v-1.7M702.2 413.3v1.7M702.2 586v-1.7M711.8 413.3v1.7M711.8 586v-1.7M721.5 413.3v1.7M721.5 586v-1.7M731.1 413.3v1.7M731.1 586v-1.7M740.8 413.3v1.7M740.8 586v-1.7M750.4 413.3v3.6M750.4 586v-3.6M760 413.3v1.7M760 586v-1.7M769.7 413.3v1.7M769.7 586v-1.7M779.3 413.3v1.7M779.3 586v-1.7M789 413.3v1.7M789 586v-1.7M798.6 413.3v1.7M798.6 586v-1.7M808.3 413.3v1.7M808.3 586v-1.7M817.9 413.3v1.7M817.9 586v-1.7M827.5 413.3v1.7M827.5 586v-1.7M837.2 413.3v3.6M837.2 586v-3.6M846.8 413.3v1.7M846.8 586v-1.7M856.5 413.3v1.7M856.5 586v-1.7M866.1 413.3v1.7M866.1 586v-1.7M875.8 413.3v1.7M875.8 586v-1.7M885.4 413.3v1.7M885.4 586v-1.7M895 413.3v1.7M895 586v-1.7M904.7 413.3v1.7M904.7 586v-1.7M914.3 413.3v1.7M914.3 586v-1.7M924 413.3v3.6M924 586v-3.6M933.6 413.3v1.7M933.6 586v-1.7M557.3 575.2h4M943.2 575.2h-4M557.3 564.4h4M943.2 564.4h-4M557.3 553.6h4M943.2 553.6h-4M557.3 542.8h8M943.2 542.8h-8M557.3 532h4M943.2 532h-4M557.3 521.2h4M943.2 521.2h-4M557.3 510.4h4M943.2 510.4h-4M557.3 499.6h8M943.2 499.6h-8M557.3 488.9h4M943.2 488.9h-4M557.3 478.1h4M943.2 478.1h-4M557.3 467.3h4M943.2 467.3h-4M557.3 456.5h8M943.2 456.5h-8M557.3 445.7h4M943.2 445.7h-4M557.3 434.9h4M943.2 434.9h-4M557.3 424.1h4M943.2 424.1h-4" stroke="#2a2a2a" stroke-width="1.1" fill="none"/>
<g font-size="14.1" text-anchor="end">
<text x="552" y="416.7">0.0012</text>
<text x="552" y="461.1">0.0010</text>
<text x="552" y="504.2">0.0008</text>
<text x="552" y="547.4">0.0006</text>
<text x="552" y="590">0.0004</text>
</g>
<g font-size="13.7" text-anchor="middle">
<text x="577.3" y="601.8">180 W</text>
<text x="664.1" y="601.8">90 W</text>
<text x="750.9" y="601.8">0</text>
<text x="837.7" y="601.8">90 E</text>
<text x="924.5" y="601.8">180 E</text>
</g>
<text x="749.7" y="621" font-size="14.4" text-anchor="middle">Longitude from substellar point (degrees)</text>
<text transform="translate(500.7,500.2) rotate(-90)" font-size="14.45" text-anchor="middle">Relative brightness of slice</text>
<text x="488.1" y="234.7" font-size="17.2" font-weight="bold" style="fill:#000;stroke:#000;stroke-width:.3">a</text>
<text x="487.6" y="405.3" font-size="17.2" font-weight="bold" style="fill:#000;stroke:#000;stroke-width:.3">b</text>
<path d="M576.8 533.8V555M574.3 533.8h5M574.3 555h5M605.8 509.2V535M603.2 509.2h5M603.2 535h5M634.7 493.8V534.5M632.2 493.8h5M632.2 534.5h5M663.6 487V528.8M661.1 487h5M661.1 528.8h5M692.5 484.5V515.5M690 484.5h5M690 515.5h5M721.5 481.5V501.5M719 481.5h5M719 501.5h5M750.4 457.5V484M747.9 457.5h5M747.9 484h5M779.3 442.5V462M776.8 442.5h5M776.8 462h5M808.3 457.5V476.2M805.8 457.5h5M805.8 476.2h5M837.2 485.8V508.2M834.7 485.8h5M834.7 508.2h5M866.1 525.5V548M863.6 525.5h5M863.6 548h5M895 545V566.2M892.5 545h5M892.5 566.2h5M924 533.8V555M921.5 533.8h5M921.5 555h5" stroke="#2a2a2a" stroke-width="1.25" fill="none"/>
<path d="M576.8 540.6l3.1 3.9l-3.1 3.9l-3.1 -3.9zM605.8 518.1l3.1 3.9l-3.1 3.9l-3.1 -3.9zM634.7 510.4l3.1 3.9l-3.1 3.9l-3.1 -3.9zM663.6 504.1l3.1 3.9l-3.1 3.9l-3.1 -3.9zM692.5 496.1l3.1 3.9l-3.1 3.9l-3.1 -3.9zM721.5 487.9l3.1 3.9l-3.1 3.9l-3.1 -3.9zM750.4 466.9l3.1 3.9l-3.1 3.9l-3.1 -3.9zM779.3 448.1l3.1 3.9l-3.1 3.9l-3.1 -3.9zM808.3 462.9l3.1 3.9l-3.1 3.9l-3.1 -3.9zM837.2 493.1l3.1 3.9l-3.1 3.9l-3.1 -3.9zM866.1 532.9l3.1 3.9l-3.1 3.9l-3.1 -3.9zM895 551.9l3.1 3.9l-3.1 3.9l-3.1 -3.9zM924 540.6l3.1 3.9l-3.1 3.9l-3.1 -3.9z" fill="#111"/>
</svg></body></html>
